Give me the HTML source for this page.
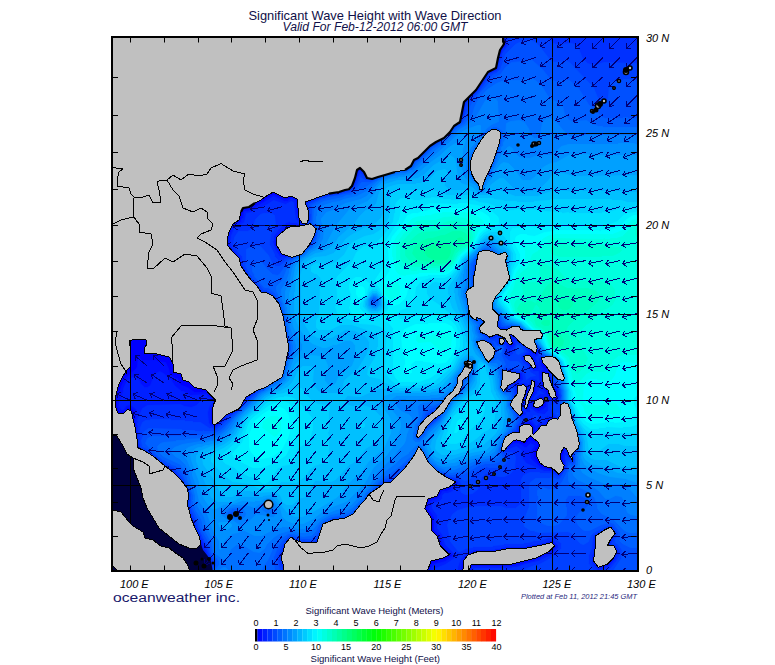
<!DOCTYPE html>
<html><head><meta charset="utf-8"><style>
html,body{margin:0;padding:0;background:#fff;}
svg{display:block;}
text{font-family:"Liberation Sans",sans-serif;}
.t1{font-size:13.5px;fill:#101048;}
.t2{font-size:12.5px;fill:#101048;font-style:italic;}
.ll{font-size:11px;font-style:italic;fill:#000;}
.cb{font-size:9px;fill:#000;}
.cbt{font-size:9px;fill:#10104a;}
.pl{font-size:8px;font-style:italic;fill:#2a2a80;}
.logo{font-size:12px;fill:#18186a;}
</style></head><body>
<svg width="775" height="665" viewBox="0 0 775 665">
<defs><clipPath id="mc"><rect x="113" y="38" width="524" height="533"/></clipPath></defs>
<rect width="775" height="665" fill="#fff"/>
<text x="248.5" y="19.5" class="t1" textLength="253" lengthAdjust="spacingAndGlyphs">Significant Wave Height with Wave Direction</text>
<text x="282.5" y="31" class="t2" textLength="185" lengthAdjust="spacingAndGlyphs">Valid For Feb-12-2012 06:00 GMT</text>
<g clip-path="url(#mc)">
<rect x="113" y="38" width="524" height="533" fill="#0000ff"/><path fill="#0010ff" stroke="#0010ff" stroke-width="0.8" d="M636.5 38.5L492.5 38.5L487.5 43.5L483.5 49.5L475.5 65.5L465.5 78.5L455.5 95.5L446.5 104.5L429.5 115.5L409.5 132.5L373.5 150.5L351.5 168.5L340.5 172.5L335.5 172.5L334.5 173.5L321.5 175.5L310.5 180.5L301.5 188.5L296.5 199.5L292.5 197.5L285.5 199.5L273.5 194.5L266.5 198.5L263.5 201.5L259.5 202.5L249.5 208.5L243.5 209.5L240.5 220.5L236.5 223.5L234.5 222.5L232.5 216.5L227.5 211.5L219.5 208.5L206.5 209.5L198.5 213.5L191.5 220.5L186.5 229.5L185.5 236.5L184.5 237.5L184.5 249.5L185.5 250.5L185.5 255.5L188.5 265.5L192.5 274.5L203.5 290.5L215.5 302.5L228.5 312.5L238.5 322.5L242.5 328.5L248.5 341.5L250.5 353.5L251.5 354.5L250.5 373.5L244.5 390.5L242.5 393.5L238.5 396.5L233.5 398.5L224.5 398.5L221.5 396.5L214.5 396.5L212.5 398.5L208.5 393.5L203.5 391.5L202.5 392.5L194.5 392.5L187.5 387.5L181.5 385.5L178.5 382.5L177.5 378.5L175.5 378.5L169.5 374.5L168.5 368.5L165.5 362.5L157.5 361.5L156.5 360.5L141.5 360.5L138.5 356.5L137.5 366.5L136.5 368.5L125.5 378.5L122.5 383.5L117.5 398.5L117.5 406.5L119.5 411.5L124.5 411.5L127.5 407.5L130.5 407.5L134.5 410.5L134.5 414.5L133.5 415.5L134.5 416.5L134.5 422.5L135.5 424.5L134.5 425.5L130.5 425.5L129.5 426.5L125.5 426.5L124.5 427.5L113.5 429.5L113.5 570.5L192.5 570.5L193.5 569.5L194.5 570.5L310.5 570.5L317.5 562.5L339.5 548.5L347.5 544.5L364.5 538.5L376.5 531.5L383.5 525.5L388.5 519.5L396.5 506.5L403.5 499.5L409.5 496.5L419.5 495.5L420.5 494.5L426.5 494.5L427.5 493.5L435.5 492.5L439.5 490.5L440.5 492.5L438.5 496.5L435.5 498.5L430.5 499.5L428.5 501.5L426.5 508.5L433.5 518.5L433.5 530.5L438.5 536.5L441.5 546.5L451.5 555.5L444.5 559.5L438.5 560.5L437.5 562.5L432.5 563.5L430.5 565.5L428.5 570.5L461.5 570.5L463.5 560.5L468.5 554.5L473.5 552.5L479.5 555.5L503.5 560.5L512.5 564.5L511.5 565.5L471.5 565.5L468.5 570.5L636.5 570.5ZM188.5 566.5L189.5 565.5L193.5 569.5L191.5 570.5ZM187.5 565.5L188.5 564.5L189.5 565.5L188.5 566.5ZM194.5 549.5L195.5 548.5L196.5 549.5L195.5 550.5ZM199.5 545.5L200.5 546.5L196.5 549.5L195.5 548.5ZM444.5 489.5L445.5 488.5L446.5 489.5L445.5 490.5ZM447.5 488.5L448.5 487.5L449.5 488.5L448.5 489.5ZM525.5 423.5L530.5 423.5L533.5 427.5L533.5 432.5L535.5 432.5L541.5 425.5L546.5 425.5L548.5 421.5L549.5 422.5L548.5 425.5L549.5 433.5L564.5 449.5L561.5 455.5L562.5 461.5L551.5 469.5L545.5 468.5L543.5 466.5L541.5 466.5L538.5 464.5L533.5 457.5L533.5 452.5L535.5 447.5L537.5 446.5L537.5 443.5L531.5 440.5L529.5 440.5L525.5 444.5L520.5 443.5L519.5 441.5L516.5 441.5L515.5 442.5L513.5 441.5L520.5 434.5ZM548.5 421.5L549.5 420.5L550.5 421.5L549.5 422.5ZM212.5 408.5L215.5 412.5L215.5 416.5L212.5 421.5L211.5 420.5L211.5 409.5ZM541.5 397.5L545.5 402.5L542.5 407.5L537.5 409.5L533.5 406.5L538.5 401.5L538.5 399.5ZM533.5 388.5L534.5 387.5L535.5 388.5L534.5 389.5ZM543.5 371.5L545.5 371.5L546.5 373.5L549.5 374.5L547.5 377.5L547.5 382.5L551.5 386.5L554.5 387.5L557.5 395.5L555.5 398.5L551.5 398.5L546.5 391.5L547.5 390.5L543.5 387.5L542.5 384.5L542.5 372.5ZM542.5 360.5L547.5 362.5L550.5 365.5L550.5 370.5L549.5 371.5L542.5 365.5L542.5 362.5L541.5 361.5ZM532.5 352.5L533.5 351.5L534.5 352.5L533.5 353.5ZM295.5 225.5L296.5 227.5L294.5 230.5L281.5 242.5L278.5 249.5L275.5 244.5L276.5 237.5L282.5 231.5L289.5 226.5L294.5 226.5Z"/><path fill="#0020ff" stroke="#0020ff" stroke-width="0.8" d="M113.5 529.5L113.5 570.5L181.5 570.5L173.5 561.5L165.5 554.5L154.5 549.5L141.5 545.5L123.5 536.5ZM636.5 38.5L503.5 38.5L505.5 44.5L501.5 51.5L494.5 57.5L484.5 73.5L470.5 86.5L462.5 103.5L457.5 108.5L442.5 115.5L436.5 119.5L420.5 134.5L412.5 140.5L402.5 145.5L385.5 151.5L372.5 159.5L362.5 170.5L360.5 169.5L358.5 170.5L356.5 176.5L350.5 179.5L323.5 183.5L314.5 187.5L307.5 194.5L304.5 200.5L303.5 212.5L302.5 213.5L302.5 222.5L301.5 223.5L298.5 218.5L298.5 214.5L296.5 213.5L295.5 200.5L291.5 198.5L287.5 201.5L284.5 201.5L273.5 196.5L252.5 209.5L247.5 211.5L244.5 211.5L243.5 217.5L241.5 219.5L241.5 221.5L239.5 223.5L233.5 225.5L228.5 238.5L229.5 246.5L237.5 255.5L236.5 256.5L233.5 255.5L224.5 256.5L220.5 258.5L215.5 265.5L215.5 273.5L219.5 283.5L224.5 290.5L247.5 311.5L252.5 320.5L255.5 329.5L257.5 341.5L258.5 342.5L258.5 347.5L259.5 348.5L259.5 362.5L258.5 363.5L258.5 368.5L251.5 387.5L247.5 395.5L243.5 399.5L235.5 403.5L229.5 409.5L225.5 417.5L217.5 425.5L214.5 426.5L210.5 423.5L210.5 409.5L211.5 406.5L213.5 405.5L215.5 401.5L207.5 396.5L206.5 394.5L190.5 395.5L183.5 391.5L181.5 391.5L174.5 385.5L171.5 380.5L163.5 373.5L159.5 371.5L154.5 374.5L150.5 385.5L147.5 387.5L144.5 387.5L140.5 383.5L139.5 380.5L135.5 377.5L132.5 377.5L127.5 380.5L123.5 388.5L123.5 391.5L119.5 402.5L119.5 406.5L121.5 409.5L123.5 409.5L126.5 405.5L130.5 404.5L136.5 409.5L136.5 412.5L135.5 413.5L136.5 415.5L136.5 418.5L135.5 419.5L136.5 425.5L135.5 426.5L136.5 427.5L137.5 434.5L130.5 438.5L122.5 445.5L118.5 440.5L117.5 437.5L113.5 435.5L113.5 507.5L120.5 510.5L134.5 526.5L144.5 532.5L146.5 537.5L155.5 540.5L161.5 545.5L167.5 546.5L171.5 548.5L178.5 554.5L182.5 556.5L195.5 570.5L286.5 570.5L284.5 564.5L284.5 556.5L287.5 553.5L290.5 553.5L291.5 552.5L302.5 552.5L303.5 551.5L308.5 551.5L317.5 548.5L343.5 533.5L349.5 532.5L365.5 526.5L371.5 522.5L379.5 514.5L383.5 508.5L388.5 498.5L388.5 496.5L395.5 488.5L402.5 485.5L407.5 485.5L408.5 484.5L429.5 485.5L430.5 484.5L437.5 484.5L442.5 482.5L455.5 480.5L457.5 482.5L452.5 486.5L450.5 489.5L446.5 491.5L442.5 491.5L438.5 498.5L430.5 501.5L429.5 509.5L434.5 517.5L434.5 529.5L440.5 535.5L443.5 546.5L452.5 554.5L452.5 556.5L445.5 561.5L434.5 564.5L431.5 567.5L430.5 570.5L460.5 570.5L461.5 562.5L464.5 556.5L468.5 553.5L476.5 550.5L495.5 550.5L501.5 548.5L510.5 548.5L511.5 547.5L526.5 547.5L527.5 546.5L531.5 546.5L532.5 545.5L536.5 545.5L542.5 543.5L545.5 544.5L550.5 541.5L552.5 541.5L556.5 546.5L549.5 553.5L537.5 559.5L535.5 559.5L534.5 561.5L531.5 561.5L514.5 566.5L472.5 566.5L470.5 570.5L636.5 570.5ZM202.5 553.5L206.5 556.5L210.5 565.5L206.5 568.5L200.5 567.5L197.5 564.5L197.5 560.5ZM594.5 545.5L596.5 544.5L605.5 549.5L611.5 554.5L614.5 559.5L608.5 565.5L598.5 568.5L593.5 561.5ZM139.5 481.5L162.5 481.5L167.5 485.5L170.5 498.5L175.5 509.5L185.5 521.5L191.5 533.5L195.5 537.5L199.5 539.5L202.5 543.5L202.5 546.5L198.5 550.5L193.5 551.5L191.5 549.5L188.5 549.5L179.5 545.5L157.5 527.5L148.5 512.5L142.5 499.5L140.5 487.5L138.5 484.5ZM568.5 450.5L569.5 451.5L568.5 454.5L567.5 453.5ZM566.5 449.5L567.5 448.5L568.5 450.5L567.5 451.5ZM524.5 422.5L530.5 421.5L535.5 427.5L535.5 429.5L536.5 429.5L540.5 424.5L545.5 424.5L546.5 421.5L549.5 418.5L551.5 419.5L553.5 418.5L554.5 419.5L555.5 431.5L559.5 438.5L567.5 448.5L566.5 449.5L564.5 448.5L564.5 453.5L563.5 454.5L563.5 462.5L564.5 464.5L556.5 472.5L552.5 469.5L549.5 470.5L548.5 469.5L541.5 468.5L530.5 458.5L529.5 452.5L534.5 445.5L530.5 443.5L526.5 447.5L524.5 447.5L518.5 443.5L514.5 443.5L508.5 447.5L507.5 446.5L508.5 442.5L513.5 437.5L516.5 432.5L518.5 431.5L519.5 426.5L523.5 424.5ZM553.5 418.5L554.5 417.5L555.5 418.5L554.5 419.5ZM522.5 412.5L523.5 411.5L524.5 413.5L523.5 414.5ZM542.5 396.5L546.5 400.5L546.5 406.5L543.5 409.5L538.5 411.5L533.5 408.5L531.5 405.5L535.5 400.5L540.5 396.5ZM521.5 384.5L524.5 384.5L528.5 387.5L525.5 396.5L525.5 399.5L523.5 402.5L521.5 397.5L516.5 391.5L516.5 386.5ZM533.5 380.5L535.5 381.5L537.5 384.5L536.5 385.5L535.5 392.5L530.5 399.5L529.5 406.5L527.5 410.5L524.5 408.5L525.5 400.5L530.5 388.5L531.5 381.5ZM520.5 373.5L521.5 374.5L521.5 378.5L513.5 384.5L512.5 381.5L514.5 376.5L517.5 373.5ZM541.5 357.5L548.5 361.5L551.5 365.5L552.5 370.5L550.5 372.5L548.5 372.5L551.5 378.5L551.5 382.5L553.5 386.5L557.5 390.5L558.5 396.5L555.5 399.5L549.5 398.5L548.5 396.5L546.5 395.5L545.5 391.5L541.5 388.5L541.5 376.5L540.5 375.5L540.5 371.5L543.5 369.5L540.5 365.5L540.5 361.5L541.5 360.5L540.5 358.5ZM523.5 356.5L527.5 354.5L530.5 354.5L535.5 360.5L534.5 361.5L535.5 363.5L537.5 364.5L538.5 368.5L537.5 369.5L535.5 368.5L533.5 369.5L530.5 365.5L524.5 360.5ZM528.5 348.5L529.5 347.5L534.5 347.5L537.5 350.5L537.5 354.5L536.5 355.5L533.5 354.5ZM502.5 333.5L505.5 331.5L515.5 331.5L519.5 336.5L519.5 340.5L518.5 341.5L515.5 337.5L510.5 335.5L514.5 344.5L510.5 347.5L509.5 345.5L506.5 343.5L504.5 338.5L502.5 336.5ZM301.5 225.5L302.5 226.5L301.5 230.5L289.5 244.5L286.5 251.5L286.5 255.5L284.5 256.5L280.5 254.5L274.5 244.5L275.5 236.5L288.5 224.5L291.5 225.5L294.5 224.5Z"/><path fill="#0030ff" stroke="#0030ff" stroke-width="0.8" d="M113.5 558.5L113.5 570.5L152.5 570.5L117.5 562.5ZM113.5 437.5L113.5 506.5L115.5 506.5L121.5 509.5L135.5 525.5L145.5 531.5L147.5 536.5L156.5 539.5L162.5 544.5L168.5 545.5L172.5 547.5L179.5 553.5L184.5 555.5L188.5 559.5L192.5 560.5L195.5 556.5L194.5 553.5L192.5 553.5L190.5 551.5L188.5 551.5L184.5 548.5L182.5 548.5L175.5 544.5L160.5 532.5L155.5 527.5L151.5 519.5L149.5 518.5L142.5 504.5L139.5 488.5L135.5 479.5L136.5 477.5L132.5 469.5L132.5 458.5L125.5 453.5L123.5 448.5L121.5 447.5L116.5 438.5ZM524 403h1v1h-1zM539.5 387.5L539.5 390.5L537.5 391.5L537.5 393.5L534.5 396.5L532.5 401.5L532.5 400.5L540.5 393.5L543.5 393.5L539.5 390.5ZM505 341h1v1h-1zM504 339h1v1h-1zM636.5 38.5L505.5 38.5L506.5 40.5L505.5 41.5L506.5 42.5L506.5 45.5L505.5 47.5L503.5 48.5L501.5 54.5L499.5 56.5L497.5 68.5L495.5 70.5L488.5 73.5L477.5 90.5L465.5 102.5L463.5 114.5L462.5 115.5L451.5 118.5L443.5 122.5L417.5 146.5L407.5 151.5L389.5 156.5L379.5 161.5L371.5 168.5L365.5 176.5L363.5 172.5L360.5 170.5L358.5 172.5L358.5 175.5L356.5 177.5L354.5 184.5L350.5 187.5L334.5 188.5L333.5 189.5L329.5 189.5L322.5 191.5L315.5 195.5L309.5 202.5L306.5 203.5L308.5 207.5L307.5 219.5L306.5 220.5L306.5 223.5L303.5 224.5L306.5 225.5L306.5 229.5L303.5 236.5L291.5 249.5L288.5 257.5L287.5 256.5L285.5 257.5L280.5 257.5L275.5 250.5L272.5 241.5L273.5 240.5L273.5 236.5L278.5 229.5L286.5 222.5L289.5 221.5L290.5 222.5L296.5 222.5L300.5 224.5L295.5 218.5L293.5 202.5L291.5 201.5L285.5 204.5L273.5 200.5L267.5 204.5L257.5 209.5L255.5 209.5L251.5 212.5L246.5 213.5L244.5 222.5L234.5 228.5L231.5 235.5L230.5 242.5L232.5 248.5L240.5 257.5L241.5 264.5L245.5 270.5L240.5 276.5L240.5 281.5L242.5 285.5L246.5 289.5L255.5 294.5L260.5 299.5L262.5 306.5L262.5 312.5L263.5 313.5L264.5 331.5L265.5 332.5L266.5 348.5L267.5 349.5L266.5 361.5L265.5 362.5L264.5 369.5L251.5 395.5L246.5 398.5L244.5 402.5L237.5 406.5L231.5 414.5L226.5 416.5L225.5 418.5L215.5 427.5L210.5 426.5L208.5 422.5L207.5 412.5L209.5 405.5L212.5 402.5L212.5 401.5L209.5 399.5L202.5 399.5L196.5 405.5L191.5 407.5L184.5 406.5L180.5 404.5L147.5 405.5L142.5 408.5L137.5 420.5L138.5 421.5L137.5 424.5L138.5 426.5L137.5 429.5L138.5 430.5L138.5 443.5L139.5 444.5L139.5 447.5L142.5 449.5L141.5 450.5L141.5 456.5L143.5 460.5L145.5 462.5L154.5 466.5L167.5 466.5L180.5 478.5L180.5 495.5L181.5 496.5L181.5 499.5L185.5 507.5L191.5 514.5L196.5 529.5L200.5 536.5L200.5 538.5L203.5 542.5L204.5 548.5L206.5 550.5L207.5 554.5L211.5 561.5L211.5 566.5L208.5 569.5L203.5 570.5L284.5 570.5L280.5 557.5L282.5 553.5L283.5 546.5L286.5 543.5L305.5 543.5L306.5 542.5L313.5 542.5L316.5 541.5L318.5 538.5L321.5 537.5L330.5 530.5L339.5 525.5L351.5 523.5L363.5 518.5L366.5 516.5L376.5 505.5L384.5 486.5L389.5 481.5L391.5 481.5L394.5 478.5L402.5 475.5L409.5 475.5L410.5 476.5L415.5 476.5L422.5 478.5L442.5 478.5L443.5 477.5L449.5 477.5L454.5 480.5L455.5 479.5L458.5 482.5L456.5 487.5L454.5 488.5L452.5 491.5L447.5 493.5L444.5 493.5L442.5 495.5L442.5 498.5L439.5 501.5L432.5 503.5L432.5 508.5L437.5 515.5L437.5 528.5L442.5 534.5L445.5 544.5L454.5 553.5L454.5 558.5L445.5 564.5L435.5 568.5L434.5 570.5L457.5 570.5L457.5 567.5L460.5 558.5L462.5 557.5L466.5 552.5L474.5 549.5L494.5 549.5L495.5 548.5L499.5 548.5L505.5 546.5L525.5 546.5L526.5 545.5L540.5 543.5L549.5 540.5L553.5 540.5L558.5 545.5L558.5 547.5L550.5 555.5L538.5 561.5L528.5 563.5L516.5 567.5L512.5 567.5L511.5 568.5L474.5 568.5L472.5 570.5L636.5 570.5ZM603.5 530.5L613.5 537.5L609.5 545.5L614.5 545.5L618.5 552.5L616.5 555.5L616.5 558.5L609.5 566.5L603.5 569.5L597.5 570.5L591.5 562.5L591.5 555.5L593.5 552.5L594.5 536.5ZM525.5 420.5L529.5 418.5L531.5 419.5L536.5 425.5L539.5 422.5L544.5 421.5L544.5 419.5L547.5 415.5L549.5 416.5L554.5 416.5L557.5 418.5L559.5 430.5L562.5 436.5L570.5 447.5L572.5 453.5L572.5 457.5L571.5 458.5L569.5 458.5L565.5 455.5L565.5 463.5L564.5 464.5L565.5 467.5L563.5 471.5L559.5 475.5L553.5 471.5L544.5 471.5L526.5 463.5L522.5 458.5L522.5 452.5L521.5 450.5L516.5 446.5L508.5 449.5L507.5 448.5L505.5 451.5L504.5 450.5L505.5 444.5L509.5 437.5L514.5 431.5L517.5 431.5L519.5 425.5ZM508.5 385.5L508.5 379.5L509.5 378.5L509.5 372.5L510.5 371.5L512.5 372.5L521.5 372.5L522.5 373.5L523.5 379.5L520.5 382.5L514.5 385.5L511.5 385.5L510.5 386.5ZM524.5 345.5L533.5 345.5L538.5 349.5L538.5 355.5L535.5 357.5L538.5 362.5L538.5 358.5L539.5 357.5L544.5 357.5L552.5 364.5L553.5 366.5L553.5 373.5L550.5 374.5L552.5 383.5L557.5 388.5L559.5 396.5L558.5 398.5L554.5 401.5L551.5 401.5L548.5 399.5L548.5 410.5L544.5 414.5L537.5 413.5L530.5 408.5L530.5 411.5L529.5 412.5L526.5 412.5L525.5 410.5L523.5 409.5L523.5 407.5L522.5 407.5L522.5 409.5L526.5 412.5L526.5 414.5L520.5 417.5L519.5 416.5L519.5 406.5L517.5 399.5L515.5 397.5L516.5 394.5L515.5 385.5L520.5 382.5L525.5 382.5L528.5 384.5L529.5 380.5L532.5 378.5L536.5 379.5L539.5 382.5L539.5 385.5L538.5 371.5L533.5 371.5L522.5 358.5L522.5 356.5L524.5 354.5L529.5 352.5L526.5 348.5L523.5 346.5ZM488.5 330.5L489.5 328.5L493.5 325.5L497.5 325.5L500.5 328.5L503.5 328.5L504.5 329.5L507.5 328.5L516.5 329.5L519.5 331.5L521.5 335.5L522.5 343.5L521.5 344.5L514.5 339.5L515.5 344.5L512.5 348.5L508.5 350.5L505.5 343.5L504.5 344.5L502.5 342.5L499.5 342.5L498.5 341.5L499.5 339.5L502.5 337.5L496.5 335.5L490.5 338.5L488.5 336.5Z"/><path fill="#0040ff" stroke="#0040ff" stroke-width="0.8" d="M113.5 559.5L113.5 570.5L123.5 570.5ZM113.5 440.5L113.5 504.5L116.5 504.5L122.5 507.5L136.5 523.5L140.5 524.5L147.5 529.5L148.5 534.5L150.5 535.5L151.5 534.5L157.5 537.5L163.5 542.5L169.5 543.5L173.5 545.5L180.5 551.5L186.5 553.5L174.5 546.5L165.5 538.5L158.5 534.5L153.5 529.5L144.5 514.5L138.5 500.5L137.5 488.5L135.5 485.5L134.5 478.5L130.5 470.5L131.5 459.5L128.5 458.5L123.5 454.5L117.5 443.5ZM533.5 415.5L533.5 417.5L537.5 420.5L538.5 417.5L536.5 415.5ZM636.5 63.5L603.5 62.5L597.5 64.5L590.5 64.5L587.5 63.5L582.5 58.5L578.5 48.5L574.5 44.5L571.5 43.5L556.5 44.5L553.5 43.5L548.5 38.5L508.5 38.5L508.5 45.5L502.5 53.5L502.5 56.5L499.5 63.5L498.5 69.5L496.5 71.5L489.5 74.5L479.5 89.5L466.5 103.5L464.5 114.5L462.5 116.5L462.5 119.5L460.5 122.5L457.5 122.5L454.5 124.5L452.5 124.5L442.5 130.5L437.5 135.5L433.5 141.5L425.5 149.5L419.5 153.5L411.5 157.5L392.5 161.5L381.5 166.5L374.5 172.5L369.5 179.5L365.5 178.5L364.5 176.5L360.5 173.5L354.5 186.5L349.5 190.5L340.5 193.5L321.5 197.5L308.5 203.5L310.5 219.5L307.5 224.5L308.5 223.5L310.5 224.5L310.5 234.5L309.5 237.5L296.5 248.5L291.5 257.5L285.5 258.5L283.5 260.5L278.5 260.5L274.5 256.5L274.5 254.5L269.5 244.5L270.5 234.5L273.5 230.5L275.5 224.5L274.5 215.5L271.5 213.5L263.5 213.5L260.5 214.5L255.5 219.5L253.5 226.5L249.5 230.5L247.5 231.5L238.5 231.5L234.5 237.5L233.5 244.5L238.5 252.5L242.5 256.5L243.5 265.5L247.5 272.5L247.5 274.5L259.5 287.5L261.5 291.5L266.5 291.5L273.5 295.5L273.5 300.5L272.5 301.5L272.5 312.5L273.5 313.5L272.5 315.5L272.5 331.5L273.5 332.5L273.5 338.5L274.5 339.5L274.5 355.5L270.5 369.5L255.5 393.5L250.5 396.5L236.5 412.5L234.5 412.5L230.5 416.5L226.5 418.5L225.5 420.5L216.5 428.5L213.5 429.5L212.5 428.5L209.5 428.5L200.5 422.5L193.5 422.5L192.5 421.5L185.5 421.5L184.5 420.5L171.5 420.5L170.5 419.5L150.5 419.5L149.5 420.5L145.5 420.5L142.5 422.5L140.5 427.5L140.5 433.5L139.5 434.5L140.5 435.5L140.5 439.5L139.5 440.5L140.5 447.5L152.5 454.5L165.5 465.5L167.5 465.5L170.5 468.5L172.5 468.5L179.5 475.5L183.5 482.5L186.5 485.5L186.5 492.5L189.5 500.5L188.5 505.5L190.5 509.5L190.5 512.5L192.5 514.5L192.5 516.5L195.5 521.5L195.5 523.5L201.5 535.5L201.5 537.5L203.5 539.5L203.5 541.5L205.5 543.5L208.5 552.5L213.5 561.5L213.5 565.5L209.5 570.5L282.5 570.5L279.5 563.5L278.5 557.5L283.5 544.5L285.5 543.5L290.5 537.5L293.5 537.5L295.5 539.5L300.5 541.5L313.5 541.5L316.5 540.5L318.5 537.5L320.5 530.5L332.5 520.5L354.5 515.5L364.5 509.5L371.5 501.5L377.5 488.5L385.5 481.5L391.5 480.5L406.5 466.5L427.5 473.5L433.5 473.5L434.5 474.5L441.5 474.5L442.5 473.5L447.5 476.5L456.5 478.5L460.5 481.5L461.5 484.5L460.5 490.5L461.5 492.5L465.5 494.5L472.5 493.5L477.5 489.5L481.5 477.5L485.5 473.5L490.5 473.5L498.5 476.5L504.5 476.5L510.5 473.5L514.5 468.5L515.5 457.5L514.5 454.5L511.5 452.5L503.5 452.5L502.5 451.5L502.5 447.5L503.5 446.5L503.5 443.5L508.5 435.5L513.5 432.5L514.5 430.5L516.5 430.5L517.5 426.5L521.5 422.5L522.5 419.5L521.5 419.5L516.5 413.5L516.5 408.5L513.5 400.5L515.5 393.5L514.5 392.5L514.5 389.5L513.5 387.5L508.5 387.5L507.5 388.5L506.5 387.5L504.5 370.5L505.5 369.5L506.5 370.5L509.5 369.5L513.5 371.5L514.5 370.5L522.5 371.5L525.5 374.5L526.5 379.5L530.5 376.5L535.5 375.5L530.5 372.5L527.5 366.5L522.5 362.5L520.5 358.5L521.5 355.5L526.5 351.5L522.5 345.5L516.5 343.5L516.5 345.5L513.5 350.5L513.5 353.5L509.5 356.5L507.5 355.5L504.5 351.5L505.5 345.5L500.5 345.5L497.5 342.5L497.5 337.5L493.5 339.5L490.5 339.5L483.5 333.5L483.5 326.5L484.5 324.5L488.5 320.5L491.5 319.5L497.5 320.5L499.5 322.5L498.5 324.5L499.5 326.5L506.5 328.5L512.5 326.5L519.5 329.5L522.5 333.5L524.5 339.5L527.5 342.5L534.5 344.5L537.5 346.5L539.5 350.5L539.5 355.5L545.5 356.5L552.5 362.5L554.5 366.5L554.5 372.5L555.5 373.5L555.5 375.5L552.5 376.5L552.5 379.5L555.5 385.5L559.5 389.5L559.5 393.5L560.5 394.5L559.5 399.5L551.5 405.5L552.5 411.5L558.5 418.5L559.5 416.5L560.5 417.5L561.5 427.5L572.5 446.5L574.5 452.5L573.5 454.5L573.5 458.5L574.5 459.5L572.5 462.5L571.5 460.5L566.5 460.5L566.5 466.5L560.5 476.5L557.5 476.5L552.5 473.5L540.5 473.5L539.5 472.5L529.5 472.5L523.5 475.5L521.5 479.5L521.5 503.5L515.5 508.5L506.5 508.5L501.5 506.5L473.5 506.5L472.5 507.5L467.5 507.5L457.5 510.5L452.5 514.5L447.5 524.5L450.5 541.5L458.5 551.5L460.5 551.5L465.5 548.5L472.5 547.5L473.5 546.5L492.5 546.5L493.5 545.5L503.5 544.5L504.5 543.5L523.5 543.5L524.5 542.5L528.5 542.5L534.5 540.5L539.5 540.5L548.5 537.5L554.5 537.5L561.5 543.5L561.5 548.5L552.5 557.5L537.5 565.5L534.5 565.5L521.5 570.5L518.5 570.5L593.5 570.5L588.5 563.5L588.5 555.5L591.5 548.5L592.5 537.5L593.5 535.5L598.5 531.5L600.5 531.5L604.5 528.5L607.5 528.5L611.5 526.5L616.5 533.5L611.5 544.5L615.5 544.5L620.5 551.5L620.5 553.5L616.5 561.5L610.5 568.5L606.5 570.5L636.5 570.5ZM436.5 410.5L437.5 411.5L437.5 417.5L432.5 422.5L427.5 422.5L424.5 419.5L429.5 415.5L431.5 412.5L433.5 412.5ZM491.5 346.5L492.5 345.5L493.5 346.5L492.5 347.5ZM487.5 343.5L489.5 342.5L492.5 345.5L490.5 346.5ZM486.5 342.5L487.5 341.5L488.5 342.5L487.5 343.5ZM481.5 261.5L483.5 264.5L482.5 268.5L477.5 273.5L475.5 273.5L474.5 272.5L475.5 264.5L477.5 261.5Z"/><path fill="#0050ff" stroke="#0050ff" stroke-width="0.8" d="M113.5 562.5L113.5 570.5L120.5 570.5ZM113.5 448.5L113.5 498.5L121.5 499.5L130.5 502.5L131.5 484.5L130.5 483.5L129.5 474.5L127.5 471.5L128.5 461.5L125.5 460.5L119.5 453.5ZM557 413h1v1h-1zM517.5 345.5L516.5 347.5L516.5 353.5L518.5 354.5L523.5 351.5L523.5 350.5L520.5 346.5ZM636.5 80.5L634.5 79.5L623.5 79.5L622.5 80.5L616.5 80.5L611.5 82.5L609.5 84.5L608.5 97.5L606.5 100.5L602.5 101.5L597.5 97.5L592.5 85.5L589.5 83.5L569.5 62.5L567.5 61.5L554.5 62.5L550.5 60.5L539.5 46.5L535.5 42.5L531.5 40.5L519.5 42.5L515.5 44.5L505.5 54.5L500.5 69.5L496.5 73.5L493.5 74.5L487.5 80.5L480.5 90.5L469.5 102.5L467.5 107.5L467.5 110.5L462.5 121.5L455.5 126.5L450.5 132.5L445.5 135.5L439.5 142.5L431.5 146.5L417.5 160.5L414.5 161.5L414.5 162.5L411.5 164.5L399.5 165.5L398.5 166.5L390.5 167.5L382.5 171.5L373.5 180.5L365.5 180.5L360.5 177.5L360.5 179.5L355.5 187.5L350.5 191.5L336.5 195.5L328.5 196.5L324.5 198.5L321.5 198.5L309.5 204.5L310.5 206.5L310.5 213.5L311.5 214.5L310.5 222.5L311.5 224.5L315.5 227.5L316.5 234.5L313.5 241.5L310.5 244.5L306.5 245.5L301.5 248.5L295.5 254.5L293.5 258.5L286.5 260.5L279.5 266.5L275.5 266.5L271.5 262.5L268.5 255.5L260.5 246.5L255.5 245.5L254.5 246.5L251.5 246.5L246.5 249.5L246.5 260.5L245.5 261.5L246.5 263.5L245.5 264.5L247.5 269.5L249.5 271.5L249.5 273.5L252.5 276.5L252.5 278.5L260.5 285.5L263.5 289.5L266.5 289.5L274.5 295.5L280.5 306.5L280.5 334.5L283.5 342.5L283.5 348.5L277.5 367.5L273.5 375.5L259.5 391.5L256.5 392.5L238.5 411.5L227.5 419.5L227.5 420.5L216.5 430.5L213.5 431.5L204.5 431.5L203.5 430.5L202.5 431.5L195.5 431.5L194.5 430.5L182.5 430.5L181.5 429.5L148.5 428.5L143.5 432.5L143.5 435.5L141.5 440.5L142.5 446.5L146.5 448.5L150.5 452.5L153.5 453.5L162.5 461.5L173.5 467.5L181.5 475.5L184.5 480.5L186.5 486.5L188.5 488.5L190.5 495.5L189.5 498.5L190.5 500.5L189.5 502.5L190.5 507.5L197.5 522.5L198.5 527.5L205.5 541.5L207.5 543.5L210.5 553.5L215.5 563.5L213.5 568.5L211.5 570.5L279.5 570.5L276.5 557.5L279.5 551.5L280.5 546.5L287.5 538.5L290.5 536.5L293.5 536.5L295.5 538.5L301.5 540.5L304.5 539.5L306.5 540.5L315.5 539.5L323.5 523.5L335.5 518.5L344.5 517.5L352.5 514.5L358.5 506.5L366.5 498.5L370.5 492.5L374.5 490.5L384.5 480.5L390.5 479.5L403.5 468.5L404.5 466.5L408.5 463.5L412.5 457.5L420.5 464.5L428.5 468.5L436.5 469.5L442.5 473.5L451.5 476.5L459.5 477.5L464.5 480.5L469.5 479.5L476.5 471.5L482.5 467.5L485.5 467.5L486.5 466.5L488.5 467.5L498.5 467.5L503.5 465.5L507.5 460.5L506.5 456.5L503.5 454.5L500.5 450.5L503.5 442.5L503.5 439.5L508.5 435.5L511.5 431.5L515.5 429.5L516.5 425.5L519.5 422.5L519.5 420.5L512.5 408.5L511.5 401.5L513.5 396.5L513.5 391.5L512.5 389.5L507.5 389.5L506.5 390.5L504.5 388.5L501.5 370.5L504.5 368.5L508.5 368.5L509.5 367.5L512.5 368.5L513.5 367.5L514.5 368.5L522.5 368.5L523.5 367.5L519.5 362.5L517.5 361.5L510.5 361.5L508.5 360.5L504.5 356.5L503.5 347.5L501.5 345.5L497.5 345.5L494.5 341.5L492.5 341.5L494.5 343.5L494.5 346.5L493.5 347.5L495.5 349.5L494.5 350.5L491.5 350.5L482.5 342.5L483.5 339.5L485.5 340.5L486.5 339.5L490.5 340.5L481.5 333.5L478.5 329.5L484.5 322.5L480.5 319.5L484.5 315.5L487.5 315.5L488.5 314.5L489.5 315.5L497.5 316.5L499.5 318.5L499.5 321.5L501.5 326.5L504.5 326.5L505.5 327.5L506.5 326.5L516.5 326.5L518.5 327.5L529.5 341.5L537.5 345.5L539.5 348.5L540.5 354.5L548.5 357.5L554.5 363.5L556.5 369.5L556.5 376.5L554.5 377.5L553.5 379.5L554.5 382.5L560.5 389.5L561.5 397.5L559.5 400.5L559.5 403.5L562.5 405.5L561.5 407.5L562.5 420.5L564.5 427.5L575.5 448.5L575.5 451.5L574.5 452.5L574.5 462.5L573.5 463.5L568.5 462.5L567.5 467.5L560.5 478.5L557.5 479.5L551.5 477.5L549.5 478.5L535.5 478.5L530.5 482.5L529.5 484.5L529.5 506.5L523.5 521.5L524.5 526.5L530.5 530.5L533.5 530.5L538.5 532.5L567.5 531.5L570.5 532.5L580.5 543.5L583.5 544.5L588.5 541.5L590.5 535.5L593.5 532.5L607.5 525.5L612.5 525.5L618.5 533.5L615.5 539.5L615.5 542.5L618.5 544.5L622.5 550.5L621.5 558.5L613.5 570.5L636.5 570.5ZM439.5 406.5L440.5 407.5L440.5 415.5L426.5 428.5L422.5 428.5L419.5 425.5L426.5 414.5L431.5 410.5L433.5 410.5ZM487.5 254.5L489.5 256.5L489.5 264.5L484.5 274.5L477.5 281.5L473.5 282.5L472.5 281.5L473.5 269.5L476.5 259.5L483.5 254.5Z"/><path fill="#0060ff" stroke="#0060ff" stroke-width="0.8" d="M113.5 566.5L113.5 570.5L117.5 570.5ZM518.5 348.5L518.5 349.5L519.5 349.5L519.5 348.5ZM636.5 118.5L628.5 118.5L627.5 117.5L623.5 117.5L622.5 118.5L605.5 118.5L602.5 117.5L588.5 104.5L578.5 88.5L569.5 80.5L559.5 80.5L558.5 81.5L555.5 81.5L550.5 79.5L542.5 69.5L532.5 60.5L524.5 60.5L523.5 61.5L511.5 62.5L505.5 67.5L500.5 74.5L494.5 77.5L478.5 94.5L472.5 102.5L470.5 106.5L469.5 112.5L463.5 122.5L456.5 127.5L443.5 140.5L432.5 147.5L421.5 158.5L416.5 161.5L410.5 168.5L407.5 170.5L390.5 172.5L382.5 177.5L377.5 178.5L370.5 182.5L361.5 182.5L356.5 189.5L349.5 193.5L329.5 197.5L320.5 200.5L311.5 205.5L312.5 207.5L312.5 220.5L311.5 221.5L317.5 229.5L316.5 231.5L317.5 232.5L316.5 237.5L311.5 245.5L306.5 250.5L301.5 252.5L296.5 257.5L294.5 257.5L293.5 259.5L288.5 261.5L279.5 274.5L277.5 275.5L272.5 274.5L266.5 268.5L261.5 261.5L257.5 261.5L252.5 265.5L252.5 271.5L254.5 274.5L254.5 276.5L264.5 287.5L268.5 287.5L275.5 293.5L277.5 298.5L279.5 300.5L284.5 315.5L290.5 349.5L288.5 356.5L283.5 365.5L280.5 374.5L272.5 383.5L263.5 390.5L260.5 390.5L260.5 391.5L249.5 400.5L221.5 429.5L215.5 433.5L203.5 434.5L202.5 435.5L151.5 436.5L147.5 438.5L145.5 443.5L151.5 450.5L154.5 451.5L155.5 453.5L162.5 459.5L164.5 459.5L167.5 462.5L169.5 462.5L171.5 464.5L175.5 465.5L181.5 471.5L186.5 482.5L188.5 484.5L191.5 494.5L191.5 505.5L198.5 519.5L200.5 527.5L209.5 543.5L211.5 552.5L216.5 560.5L216.5 565.5L213.5 570.5L274.5 570.5L273.5 557.5L278.5 545.5L282.5 540.5L290.5 534.5L301.5 538.5L311.5 538.5L315.5 535.5L320.5 527.5L320.5 525.5L324.5 521.5L328.5 520.5L332.5 517.5L342.5 516.5L351.5 513.5L365.5 498.5L368.5 493.5L384.5 478.5L389.5 477.5L413.5 456.5L418.5 447.5L422.5 457.5L426.5 461.5L429.5 462.5L436.5 469.5L449.5 474.5L463.5 474.5L478.5 465.5L485.5 463.5L494.5 463.5L499.5 461.5L502.5 457.5L499.5 451.5L502.5 440.5L514.5 427.5L517.5 420.5L515.5 414.5L509.5 405.5L511.5 400.5L511.5 392.5L510.5 391.5L505.5 391.5L504.5 392.5L501.5 387.5L501.5 384.5L500.5 383.5L501.5 382.5L500.5 369.5L503.5 367.5L505.5 364.5L501.5 355.5L502.5 347.5L501.5 346.5L496.5 346.5L496.5 353.5L495.5 354.5L495.5 357.5L493.5 359.5L491.5 357.5L491.5 355.5L486.5 351.5L478.5 342.5L479.5 340.5L481.5 340.5L481.5 339.5L484.5 337.5L478.5 331.5L478.5 327.5L482.5 322.5L478.5 319.5L477.5 319.5L478.5 320.5L477.5 322.5L474.5 320.5L475.5 313.5L476.5 311.5L480.5 308.5L486.5 309.5L497.5 313.5L500.5 316.5L500.5 320.5L502.5 324.5L504.5 325.5L517.5 325.5L520.5 327.5L524.5 332.5L525.5 335.5L530.5 340.5L536.5 343.5L539.5 347.5L541.5 353.5L546.5 356.5L548.5 356.5L555.5 363.5L557.5 368.5L558.5 378.5L556.5 380.5L556.5 383.5L561.5 389.5L561.5 394.5L562.5 395.5L561.5 397.5L561.5 402.5L563.5 404.5L564.5 419.5L566.5 425.5L572.5 437.5L574.5 439.5L574.5 441.5L577.5 447.5L577.5 450.5L575.5 453.5L575.5 463.5L572.5 465.5L570.5 464.5L568.5 466.5L567.5 471.5L562.5 481.5L557.5 488.5L555.5 489.5L548.5 489.5L543.5 487.5L539.5 487.5L537.5 490.5L537.5 495.5L538.5 496.5L538.5 499.5L537.5 500.5L537.5 517.5L538.5 519.5L542.5 523.5L547.5 525.5L554.5 525.5L559.5 523.5L566.5 515.5L566.5 507.5L565.5 506.5L565.5 499.5L568.5 495.5L580.5 495.5L586.5 498.5L588.5 501.5L588.5 505.5L583.5 510.5L579.5 512.5L576.5 516.5L576.5 521.5L578.5 525.5L582.5 529.5L584.5 530.5L589.5 530.5L601.5 524.5L610.5 522.5L613.5 523.5L620.5 532.5L620.5 539.5L619.5 540.5L622.5 543.5L630.5 547.5L636.5 547.5ZM229.5 513.5L231.5 511.5L235.5 511.5L236.5 512.5L236.5 515.5L235.5 516.5L231.5 516.5ZM442.5 402.5L443.5 403.5L442.5 414.5L437.5 420.5L425.5 430.5L424.5 433.5L418.5 439.5L416.5 437.5L418.5 425.5L420.5 423.5L420.5 421.5L422.5 419.5L425.5 412.5L430.5 408.5L439.5 405.5ZM557.5 379.5L558.5 378.5L559.5 379.5L558.5 380.5ZM465.5 375.5L467.5 378.5L465.5 379.5L463.5 382.5L461.5 379.5L462.5 377.5ZM372.5 300.5L374.5 299.5L375.5 301.5L374.5 302.5ZM491.5 250.5L494.5 253.5L494.5 261.5L492.5 267.5L476.5 292.5L474.5 294.5L470.5 294.5L467.5 290.5L472.5 286.5L472.5 283.5L471.5 282.5L472.5 265.5L477.5 257.5L477.5 255.5L483.5 249.5ZM489.5 130.5L495.5 128.5L501.5 132.5L501.5 140.5L499.5 145.5L491.5 141.5L486.5 136.5L485.5 134.5Z"/><path fill="#0070ff" stroke="#0070ff" stroke-width="0.8" d="M498.5 347.5L498.5 352.5L500.5 352.5L501.5 351.5L501.5 348.5ZM636.5 127.5L603.5 127.5L602.5 126.5L598.5 126.5L592.5 124.5L586.5 120.5L571.5 121.5L568.5 119.5L564.5 114.5L562.5 105.5L559.5 102.5L557.5 102.5L551.5 99.5L547.5 95.5L542.5 87.5L535.5 80.5L530.5 78.5L526.5 78.5L520.5 80.5L504.5 80.5L496.5 83.5L487.5 89.5L478.5 99.5L474.5 107.5L472.5 114.5L464.5 124.5L457.5 128.5L443.5 142.5L432.5 149.5L423.5 158.5L417.5 162.5L411.5 169.5L409.5 169.5L407.5 171.5L398.5 172.5L384.5 176.5L350.5 195.5L346.5 195.5L342.5 197.5L323.5 201.5L314.5 206.5L313.5 222.5L317.5 226.5L319.5 230.5L318.5 231.5L317.5 238.5L311.5 247.5L306.5 250.5L302.5 255.5L295.5 258.5L288.5 265.5L282.5 280.5L276.5 286.5L276.5 290.5L278.5 294.5L278.5 297.5L282.5 303.5L282.5 307.5L285.5 314.5L287.5 329.5L288.5 330.5L288.5 335.5L291.5 345.5L291.5 350.5L287.5 359.5L287.5 363.5L283.5 377.5L266.5 388.5L263.5 391.5L261.5 391.5L257.5 394.5L257.5 395.5L233.5 418.5L224.5 429.5L218.5 434.5L214.5 436.5L204.5 437.5L203.5 438.5L185.5 439.5L184.5 440.5L176.5 440.5L175.5 441.5L163.5 442.5L160.5 443.5L157.5 446.5L158.5 451.5L163.5 456.5L180.5 464.5L185.5 472.5L185.5 474.5L187.5 477.5L187.5 480.5L191.5 487.5L191.5 490.5L193.5 495.5L193.5 499.5L192.5 500.5L193.5 501.5L193.5 505.5L195.5 507.5L195.5 509.5L201.5 519.5L203.5 527.5L211.5 542.5L213.5 553.5L219.5 561.5L219.5 564.5L215.5 570.5L261.5 570.5L263.5 565.5L267.5 560.5L274.5 544.5L280.5 538.5L288.5 533.5L293.5 533.5L302.5 536.5L311.5 535.5L315.5 531.5L318.5 525.5L323.5 520.5L331.5 516.5L344.5 514.5L351.5 511.5L363.5 498.5L367.5 492.5L370.5 490.5L383.5 476.5L388.5 474.5L400.5 465.5L411.5 455.5L415.5 450.5L416.5 447.5L419.5 445.5L424.5 452.5L429.5 462.5L439.5 469.5L445.5 471.5L449.5 471.5L450.5 472.5L459.5 471.5L475.5 463.5L481.5 461.5L492.5 460.5L498.5 456.5L498.5 448.5L502.5 440.5L502.5 438.5L513.5 426.5L513.5 424.5L515.5 421.5L512.5 411.5L510.5 409.5L510.5 407.5L508.5 404.5L510.5 399.5L510.5 395.5L508.5 393.5L504.5 393.5L500.5 387.5L499.5 368.5L501.5 365.5L501.5 362.5L497.5 359.5L490.5 362.5L488.5 357.5L479.5 349.5L476.5 343.5L481.5 336.5L477.5 332.5L477.5 329.5L476.5 328.5L478.5 324.5L469.5 316.5L468.5 308.5L467.5 307.5L467.5 302.5L465.5 296.5L467.5 288.5L470.5 286.5L470.5 280.5L469.5 279.5L469.5 276.5L470.5 275.5L469.5 274.5L470.5 264.5L478.5 252.5L484.5 248.5L491.5 249.5L498.5 254.5L498.5 260.5L496.5 266.5L483.5 289.5L482.5 297.5L484.5 302.5L487.5 305.5L493.5 308.5L495.5 311.5L501.5 316.5L502.5 321.5L506.5 324.5L519.5 325.5L521.5 328.5L524.5 330.5L528.5 337.5L536.5 342.5L539.5 346.5L542.5 353.5L548.5 355.5L552.5 358.5L557.5 365.5L559.5 377.5L560.5 378.5L559.5 384.5L562.5 390.5L562.5 400.5L564.5 404.5L566.5 418.5L568.5 424.5L573.5 432.5L579.5 446.5L579.5 449.5L576.5 454.5L576.5 464.5L574.5 466.5L572.5 466.5L569.5 468.5L569.5 471.5L568.5 472.5L568.5 480.5L569.5 482.5L575.5 486.5L577.5 486.5L588.5 491.5L594.5 497.5L597.5 505.5L597.5 508.5L601.5 513.5L613.5 519.5L624.5 530.5L628.5 532.5L636.5 532.5ZM227.5 512.5L232.5 508.5L236.5 508.5L240.5 511.5L241.5 514.5L237.5 518.5L232.5 518.5L227.5 514.5ZM268.5 503.5L271.5 506.5L269.5 509.5L267.5 509.5L265.5 507.5ZM451.5 392.5L452.5 394.5L447.5 404.5L445.5 412.5L442.5 414.5L441.5 417.5L426.5 431.5L425.5 434.5L419.5 440.5L417.5 440.5L414.5 437.5L414.5 433.5L415.5 432.5L416.5 425.5L420.5 419.5L423.5 409.5L429.5 405.5L432.5 405.5L440.5 402.5ZM468.5 361.5L472.5 366.5L472.5 371.5L468.5 378.5L465.5 380.5L462.5 389.5L452.5 393.5L451.5 392.5L456.5 384.5L456.5 378.5L461.5 372.5L466.5 362.5ZM373.5 297.5L377.5 300.5L374.5 304.5L371.5 302.5L371.5 299.5ZM496.5 126.5L503.5 131.5L503.5 136.5L502.5 137.5L501.5 145.5L499.5 147.5L494.5 163.5L491.5 169.5L484.5 176.5L481.5 178.5L474.5 180.5L470.5 173.5L470.5 170.5L469.5 169.5L470.5 157.5L475.5 148.5L482.5 139.5L486.5 131.5L493.5 126.5Z"/><path fill="#0080ff" stroke="#0080ff" stroke-width="0.8" d="M228.5 570.5L225.5 567.5L223.5 567.5L218.5 570.5ZM636.5 135.5L584.5 135.5L583.5 136.5L570.5 136.5L567.5 135.5L555.5 121.5L550.5 118.5L546.5 118.5L542.5 122.5L540.5 134.5L536.5 138.5L534.5 138.5L530.5 135.5L528.5 128.5L524.5 122.5L519.5 120.5L510.5 121.5L506.5 123.5L505.5 139.5L503.5 142.5L503.5 145.5L501.5 147.5L501.5 150.5L498.5 154.5L496.5 161.5L491.5 170.5L491.5 172.5L488.5 175.5L484.5 183.5L484.5 185.5L482.5 187.5L479.5 187.5L478.5 184.5L472.5 179.5L468.5 173.5L467.5 170.5L467.5 162.5L468.5 161.5L468.5 157.5L473.5 147.5L483.5 134.5L483.5 132.5L486.5 128.5L491.5 124.5L498.5 121.5L497.5 101.5L495.5 98.5L490.5 97.5L485.5 100.5L476.5 116.5L468.5 124.5L459.5 129.5L443.5 144.5L426.5 157.5L412.5 170.5L410.5 170.5L405.5 173.5L399.5 173.5L385.5 177.5L377.5 181.5L366.5 191.5L356.5 196.5L343.5 199.5L339.5 201.5L332.5 202.5L323.5 205.5L318.5 208.5L317.5 210.5L317.5 215.5L316.5 216.5L316.5 222.5L320.5 227.5L320.5 236.5L317.5 243.5L315.5 244.5L312.5 248.5L308.5 250.5L306.5 253.5L296.5 259.5L292.5 263.5L289.5 269.5L289.5 272.5L286.5 281.5L281.5 289.5L281.5 297.5L284.5 304.5L287.5 322.5L288.5 323.5L289.5 333.5L293.5 345.5L293.5 349.5L288.5 361.5L288.5 364.5L284.5 377.5L279.5 382.5L260.5 393.5L235.5 418.5L228.5 428.5L219.5 436.5L212.5 439.5L182.5 444.5L174.5 447.5L171.5 450.5L171.5 452.5L175.5 456.5L179.5 458.5L185.5 464.5L187.5 468.5L195.5 495.5L195.5 502.5L204.5 517.5L207.5 528.5L213.5 539.5L215.5 553.5L223.5 559.5L225.5 559.5L227.5 557.5L230.5 549.5L236.5 544.5L244.5 545.5L253.5 551.5L259.5 552.5L264.5 548.5L266.5 544.5L273.5 537.5L279.5 533.5L289.5 530.5L296.5 531.5L297.5 532.5L308.5 532.5L310.5 531.5L321.5 519.5L330.5 514.5L345.5 511.5L352.5 507.5L362.5 497.5L364.5 493.5L384.5 471.5L395.5 463.5L401.5 457.5L408.5 453.5L408.5 452.5L418.5 443.5L422.5 446.5L430.5 461.5L437.5 466.5L445.5 469.5L454.5 469.5L475.5 460.5L491.5 457.5L495.5 454.5L502.5 436.5L507.5 431.5L511.5 425.5L512.5 415.5L507.5 405.5L508.5 396.5L504.5 394.5L500.5 390.5L499.5 387.5L499.5 375.5L498.5 374.5L497.5 364.5L496.5 363.5L489.5 363.5L482.5 355.5L475.5 343.5L475.5 341.5L478.5 337.5L475.5 330.5L475.5 326.5L476.5 325.5L468.5 316.5L468.5 312.5L466.5 307.5L466.5 302.5L464.5 297.5L464.5 290.5L468.5 284.5L468.5 281.5L467.5 280.5L468.5 264.5L480.5 249.5L487.5 246.5L492.5 248.5L496.5 251.5L498.5 254.5L500.5 253.5L501.5 254.5L500.5 264.5L487.5 288.5L486.5 294.5L489.5 302.5L493.5 306.5L493.5 308.5L502.5 316.5L505.5 322.5L519.5 325.5L524.5 329.5L527.5 334.5L539.5 345.5L542.5 351.5L545.5 354.5L551.5 356.5L558.5 364.5L560.5 371.5L560.5 376.5L562.5 380.5L561.5 381.5L561.5 386.5L563.5 390.5L563.5 399.5L566.5 403.5L567.5 414.5L569.5 420.5L580.5 441.5L580.5 446.5L579.5 447.5L580.5 449.5L577.5 455.5L578.5 457.5L578.5 464.5L577.5 466.5L572.5 470.5L573.5 475.5L577.5 479.5L594.5 487.5L598.5 490.5L605.5 498.5L609.5 498.5L615.5 495.5L621.5 496.5L625.5 502.5L625.5 506.5L627.5 512.5L630.5 514.5L636.5 515.5ZM224.5 512.5L225.5 510.5L229.5 507.5L239.5 506.5L243.5 508.5L246.5 513.5L245.5 516.5L241.5 520.5L235.5 520.5L227.5 517.5ZM268.5 501.5L270.5 501.5L274.5 506.5L273.5 511.5L270.5 513.5L266.5 513.5L261.5 509.5L261.5 507.5ZM473.5 362.5L474.5 365.5L473.5 366.5L471.5 376.5L466.5 382.5L463.5 389.5L461.5 390.5L460.5 393.5L452.5 400.5L440.5 420.5L428.5 431.5L426.5 435.5L419.5 442.5L415.5 442.5L412.5 439.5L412.5 432.5L413.5 431.5L414.5 424.5L416.5 422.5L418.5 417.5L417.5 406.5L420.5 403.5L423.5 402.5L439.5 400.5L447.5 393.5L450.5 392.5L452.5 390.5L452.5 388.5L455.5 383.5L455.5 378.5L459.5 373.5L462.5 366.5L465.5 362.5L468.5 360.5ZM373.5 296.5L375.5 296.5L378.5 300.5L378.5 302.5L376.5 305.5L372.5 305.5L370.5 303.5L370.5 299.5Z"/><path fill="#0090ff" stroke="#0090ff" stroke-width="0.8" d="M636.5 144.5L633.5 143.5L618.5 143.5L617.5 144.5L568.5 144.5L561.5 146.5L551.5 155.5L537.5 155.5L529.5 158.5L519.5 157.5L513.5 151.5L512.5 148.5L509.5 146.5L507.5 147.5L502.5 153.5L495.5 167.5L493.5 169.5L490.5 177.5L487.5 180.5L485.5 186.5L483.5 187.5L483.5 190.5L480.5 191.5L479.5 188.5L477.5 187.5L477.5 185.5L469.5 178.5L465.5 171.5L466.5 155.5L470.5 147.5L473.5 144.5L477.5 138.5L478.5 134.5L480.5 132.5L480.5 125.5L477.5 125.5L466.5 129.5L459.5 133.5L433.5 156.5L428.5 159.5L413.5 172.5L403.5 175.5L393.5 176.5L380.5 181.5L366.5 196.5L360.5 199.5L345.5 203.5L332.5 210.5L326.5 212.5L321.5 218.5L321.5 221.5L324.5 228.5L323.5 238.5L321.5 242.5L315.5 248.5L309.5 251.5L304.5 256.5L298.5 259.5L295.5 262.5L292.5 268.5L290.5 279.5L285.5 291.5L285.5 301.5L286.5 302.5L286.5 306.5L287.5 307.5L287.5 311.5L289.5 317.5L290.5 327.5L296.5 345.5L296.5 349.5L290.5 361.5L285.5 378.5L280.5 383.5L261.5 394.5L238.5 417.5L231.5 428.5L223.5 436.5L213.5 441.5L210.5 441.5L201.5 444.5L197.5 444.5L188.5 447.5L183.5 451.5L183.5 454.5L187.5 460.5L192.5 472.5L192.5 475.5L195.5 483.5L199.5 501.5L206.5 511.5L213.5 531.5L219.5 541.5L219.5 548.5L220.5 549.5L221.5 548.5L224.5 540.5L232.5 533.5L238.5 532.5L241.5 530.5L244.5 530.5L254.5 535.5L261.5 535.5L277.5 527.5L281.5 527.5L282.5 526.5L295.5 527.5L296.5 528.5L304.5 528.5L311.5 525.5L317.5 519.5L326.5 513.5L336.5 509.5L346.5 507.5L351.5 504.5L369.5 484.5L377.5 471.5L394.5 455.5L397.5 450.5L403.5 444.5L405.5 440.5L406.5 434.5L411.5 421.5L411.5 417.5L408.5 414.5L401.5 411.5L396.5 406.5L395.5 402.5L399.5 398.5L405.5 398.5L406.5 399.5L430.5 398.5L431.5 397.5L438.5 397.5L444.5 394.5L451.5 388.5L451.5 386.5L454.5 380.5L454.5 377.5L459.5 371.5L463.5 363.5L467.5 359.5L470.5 359.5L475.5 363.5L473.5 374.5L470.5 381.5L464.5 390.5L454.5 399.5L447.5 412.5L440.5 422.5L429.5 433.5L426.5 438.5L422.5 442.5L429.5 457.5L437.5 464.5L443.5 466.5L456.5 465.5L461.5 462.5L472.5 458.5L488.5 455.5L494.5 451.5L500.5 437.5L505.5 431.5L510.5 421.5L508.5 409.5L506.5 406.5L506.5 397.5L501.5 393.5L498.5 388.5L498.5 378.5L497.5 377.5L497.5 373.5L495.5 367.5L490.5 365.5L487.5 361.5L484.5 359.5L474.5 344.5L474.5 340.5L476.5 336.5L474.5 333.5L473.5 325.5L467.5 316.5L466.5 309.5L465.5 308.5L465.5 303.5L462.5 296.5L462.5 291.5L465.5 284.5L465.5 269.5L466.5 268.5L467.5 261.5L472.5 257.5L482.5 246.5L487.5 244.5L492.5 246.5L499.5 252.5L502.5 253.5L503.5 252.5L505.5 254.5L505.5 258.5L502.5 267.5L497.5 274.5L490.5 288.5L490.5 297.5L494.5 303.5L493.5 305.5L494.5 307.5L503.5 315.5L504.5 318.5L507.5 321.5L519.5 324.5L526.5 330.5L529.5 335.5L536.5 340.5L542.5 348.5L543.5 351.5L545.5 353.5L551.5 355.5L558.5 362.5L560.5 366.5L561.5 374.5L563.5 379.5L562.5 385.5L564.5 390.5L564.5 399.5L567.5 403.5L567.5 407.5L570.5 417.5L574.5 425.5L578.5 430.5L578.5 434.5L581.5 442.5L579.5 458.5L580.5 459.5L580.5 468.5L582.5 472.5L588.5 476.5L604.5 483.5L621.5 483.5L627.5 486.5L636.5 496.5ZM277.5 507.5L277.5 512.5L273.5 517.5L268.5 517.5L267.5 516.5L256.5 514.5L242.5 527.5L232.5 520.5L226.5 519.5L221.5 515.5L221.5 511.5L224.5 507.5L233.5 504.5L245.5 504.5L254.5 507.5L258.5 504.5L268.5 499.5L270.5 499.5L275.5 503.5ZM373.5 295.5L375.5 295.5L379.5 300.5L378.5 305.5L375.5 307.5L373.5 307.5L369.5 304.5L369.5 299.5L370.5 297.5Z"/><path fill="#00a0ff" stroke="#00a0ff" stroke-width="0.8" d="M218.5 523.5L220.5 528.5L222.5 529.5L227.5 529.5L231.5 526.5L231.5 524.5L229.5 522.5L219.5 522.5ZM636.5 155.5L589.5 155.5L588.5 154.5L570.5 154.5L556.5 162.5L550.5 163.5L544.5 166.5L540.5 169.5L535.5 176.5L530.5 180.5L523.5 180.5L521.5 179.5L513.5 168.5L508.5 163.5L503.5 162.5L500.5 164.5L495.5 171.5L493.5 176.5L487.5 184.5L483.5 192.5L479.5 192.5L475.5 185.5L469.5 182.5L464.5 177.5L462.5 173.5L462.5 170.5L461.5 169.5L461.5 157.5L462.5 156.5L462.5 149.5L465.5 140.5L464.5 139.5L453.5 144.5L447.5 148.5L440.5 155.5L430.5 162.5L416.5 174.5L410.5 176.5L405.5 176.5L404.5 177.5L398.5 177.5L397.5 178.5L389.5 179.5L381.5 183.5L377.5 187.5L374.5 194.5L367.5 201.5L349.5 209.5L335.5 226.5L326.5 243.5L320.5 248.5L311.5 252.5L308.5 255.5L301.5 259.5L297.5 263.5L295.5 267.5L292.5 284.5L289.5 293.5L289.5 305.5L290.5 306.5L290.5 312.5L291.5 313.5L291.5 318.5L292.5 319.5L293.5 326.5L296.5 332.5L296.5 334.5L302.5 344.5L302.5 349.5L293.5 360.5L286.5 380.5L280.5 385.5L275.5 387.5L261.5 396.5L254.5 404.5L246.5 410.5L240.5 417.5L235.5 426.5L228.5 435.5L217.5 442.5L208.5 445.5L205.5 445.5L201.5 447.5L198.5 447.5L194.5 449.5L190.5 454.5L191.5 460.5L199.5 482.5L199.5 485.5L203.5 497.5L209.5 506.5L212.5 508.5L216.5 508.5L223.5 504.5L233.5 503.5L242.5 500.5L254.5 501.5L255.5 500.5L260.5 500.5L266.5 497.5L272.5 497.5L277.5 502.5L280.5 508.5L282.5 516.5L286.5 520.5L294.5 523.5L303.5 523.5L313.5 518.5L322.5 511.5L332.5 506.5L346.5 501.5L364.5 483.5L373.5 467.5L386.5 455.5L391.5 448.5L397.5 436.5L400.5 427.5L400.5 422.5L399.5 419.5L389.5 407.5L389.5 404.5L388.5 403.5L389.5 400.5L396.5 395.5L429.5 395.5L430.5 394.5L436.5 394.5L442.5 392.5L449.5 386.5L453.5 376.5L458.5 370.5L462.5 362.5L468.5 357.5L470.5 357.5L473.5 359.5L476.5 363.5L473.5 379.5L467.5 389.5L454.5 401.5L440.5 425.5L426.5 442.5L427.5 448.5L430.5 455.5L435.5 460.5L443.5 463.5L454.5 462.5L472.5 455.5L488.5 452.5L494.5 446.5L497.5 439.5L503.5 431.5L507.5 421.5L507.5 414.5L505.5 408.5L505.5 400.5L497.5 389.5L496.5 377.5L494.5 370.5L491.5 368.5L480.5 356.5L473.5 345.5L473.5 342.5L472.5 341.5L473.5 335.5L471.5 330.5L471.5 326.5L466.5 318.5L465.5 311.5L460.5 296.5L460.5 288.5L462.5 281.5L462.5 274.5L463.5 273.5L463.5 269.5L466.5 260.5L485.5 242.5L490.5 242.5L492.5 243.5L499.5 250.5L501.5 251.5L506.5 251.5L508.5 255.5L507.5 263.5L501.5 274.5L497.5 279.5L493.5 288.5L493.5 297.5L495.5 300.5L494.5 302.5L495.5 303.5L495.5 306.5L508.5 320.5L520.5 324.5L527.5 330.5L528.5 332.5L536.5 339.5L542.5 347.5L543.5 350.5L545.5 352.5L555.5 357.5L560.5 363.5L563.5 377.5L564.5 378.5L564.5 383.5L563.5 385.5L565.5 391.5L565.5 399.5L569.5 406.5L575.5 425.5L580.5 434.5L580.5 438.5L582.5 442.5L581.5 457.5L584.5 464.5L592.5 470.5L594.5 470.5L597.5 472.5L609.5 476.5L625.5 478.5L636.5 482.5ZM373.5 294.5L377.5 295.5L380.5 300.5L380.5 304.5L376.5 308.5L372.5 308.5L368.5 305.5L368.5 299.5L369.5 297.5Z"/><path fill="#00b0ff" stroke="#00b0ff" stroke-width="0.8" d="M636.5 175.5L573.5 176.5L563.5 173.5L553.5 173.5L548.5 180.5L540.5 188.5L532.5 191.5L521.5 191.5L520.5 190.5L517.5 190.5L513.5 188.5L503.5 178.5L499.5 178.5L491.5 184.5L484.5 193.5L478.5 193.5L472.5 187.5L461.5 183.5L457.5 179.5L455.5 161.5L454.5 158.5L450.5 155.5L433.5 165.5L424.5 174.5L417.5 178.5L407.5 179.5L406.5 180.5L397.5 180.5L384.5 184.5L379.5 191.5L376.5 203.5L372.5 207.5L365.5 210.5L359.5 216.5L354.5 223.5L338.5 237.5L336.5 241.5L329.5 248.5L321.5 252.5L315.5 253.5L303.5 260.5L299.5 264.5L297.5 274.5L296.5 275.5L295.5 291.5L294.5 292.5L294.5 312.5L295.5 313.5L295.5 317.5L297.5 323.5L301.5 331.5L307.5 339.5L312.5 343.5L322.5 347.5L326.5 347.5L333.5 344.5L336.5 344.5L345.5 340.5L350.5 340.5L352.5 341.5L355.5 345.5L355.5 357.5L352.5 365.5L349.5 368.5L342.5 371.5L339.5 374.5L336.5 382.5L333.5 385.5L328.5 385.5L324.5 380.5L324.5 376.5L327.5 369.5L327.5 365.5L325.5 360.5L321.5 356.5L311.5 355.5L300.5 359.5L295.5 364.5L289.5 380.5L281.5 387.5L264.5 396.5L242.5 417.5L233.5 433.5L227.5 439.5L216.5 445.5L211.5 446.5L199.5 451.5L196.5 455.5L196.5 461.5L211.5 497.5L217.5 501.5L231.5 501.5L242.5 496.5L262.5 496.5L263.5 495.5L271.5 494.5L274.5 495.5L278.5 499.5L281.5 505.5L287.5 512.5L294.5 516.5L302.5 516.5L313.5 511.5L336.5 497.5L342.5 491.5L345.5 485.5L361.5 471.5L368.5 461.5L383.5 448.5L390.5 433.5L391.5 422.5L388.5 415.5L381.5 406.5L380.5 403.5L381.5 398.5L384.5 395.5L393.5 392.5L430.5 392.5L431.5 391.5L438.5 390.5L442.5 388.5L448.5 382.5L449.5 379.5L458.5 367.5L460.5 362.5L468.5 355.5L472.5 355.5L477.5 361.5L475.5 380.5L470.5 389.5L457.5 400.5L453.5 405.5L441.5 427.5L432.5 439.5L430.5 446.5L433.5 454.5L435.5 456.5L442.5 459.5L450.5 459.5L471.5 452.5L486.5 449.5L493.5 442.5L502.5 427.5L503.5 419.5L504.5 418.5L503.5 402.5L495.5 388.5L494.5 377.5L491.5 370.5L487.5 365.5L475.5 354.5L472.5 348.5L471.5 341.5L470.5 340.5L469.5 329.5L464.5 318.5L457.5 294.5L457.5 285.5L458.5 284.5L460.5 273.5L462.5 269.5L462.5 266.5L465.5 259.5L485.5 240.5L492.5 240.5L494.5 241.5L500.5 248.5L506.5 250.5L509.5 255.5L509.5 258.5L507.5 263.5L508.5 268.5L500.5 279.5L495.5 290.5L495.5 295.5L496.5 296.5L496.5 299.5L495.5 300.5L497.5 307.5L498.5 307.5L509.5 319.5L520.5 323.5L528.5 330.5L533.5 336.5L536.5 337.5L543.5 347.5L544.5 350.5L554.5 356.5L561.5 364.5L565.5 377.5L564.5 380.5L565.5 383.5L564.5 384.5L566.5 391.5L566.5 399.5L570.5 406.5L572.5 415.5L580.5 431.5L583.5 440.5L583.5 455.5L585.5 459.5L590.5 463.5L604.5 466.5L617.5 472.5L636.5 474.5ZM372.5 293.5L376.5 293.5L381.5 300.5L381.5 305.5L375.5 310.5L369.5 308.5L367.5 305.5L367.5 299.5Z"/><path fill="#00c0ff" stroke="#00c0ff" stroke-width="0.8" d="M479.5 361.5L478.5 363.5L478.5 375.5L477.5 376.5L477.5 382.5L475.5 387.5L458.5 402.5L453.5 408.5L436.5 440.5L435.5 448.5L436.5 450.5L441.5 454.5L454.5 454.5L470.5 449.5L473.5 447.5L482.5 445.5L495.5 433.5L498.5 427.5L499.5 418.5L500.5 417.5L500.5 401.5L495.5 394.5L495.5 392.5L493.5 389.5L492.5 379.5L490.5 373.5L485.5 364.5ZM636.5 192.5L624.5 192.5L623.5 191.5L615.5 191.5L614.5 190.5L607.5 190.5L606.5 191.5L601.5 191.5L600.5 190.5L588.5 190.5L587.5 191.5L583.5 191.5L582.5 190.5L576.5 190.5L575.5 191.5L553.5 190.5L537.5 196.5L515.5 196.5L499.5 190.5L496.5 190.5L495.5 191.5L492.5 191.5L486.5 195.5L477.5 195.5L475.5 193.5L468.5 190.5L449.5 190.5L444.5 185.5L444.5 178.5L446.5 174.5L446.5 170.5L444.5 169.5L436.5 171.5L430.5 178.5L420.5 183.5L416.5 183.5L415.5 184.5L397.5 184.5L387.5 187.5L384.5 190.5L384.5 193.5L383.5 194.5L385.5 208.5L381.5 217.5L375.5 223.5L367.5 227.5L365.5 227.5L350.5 235.5L345.5 239.5L341.5 245.5L333.5 253.5L325.5 256.5L314.5 257.5L307.5 261.5L303.5 265.5L300.5 275.5L300.5 284.5L301.5 285.5L301.5 314.5L305.5 325.5L310.5 333.5L317.5 337.5L326.5 338.5L327.5 337.5L331.5 337.5L345.5 329.5L354.5 330.5L364.5 335.5L367.5 338.5L369.5 342.5L369.5 348.5L367.5 351.5L367.5 353.5L358.5 368.5L344.5 380.5L342.5 389.5L337.5 393.5L323.5 393.5L318.5 391.5L313.5 385.5L313.5 382.5L312.5 381.5L313.5 369.5L312.5 367.5L310.5 366.5L302.5 366.5L298.5 370.5L292.5 382.5L287.5 387.5L266.5 397.5L244.5 417.5L236.5 433.5L231.5 439.5L224.5 444.5L205.5 453.5L202.5 458.5L203.5 464.5L215.5 481.5L220.5 493.5L225.5 496.5L232.5 496.5L238.5 492.5L244.5 490.5L249.5 490.5L255.5 492.5L275.5 491.5L280.5 495.5L283.5 502.5L286.5 504.5L292.5 504.5L298.5 498.5L306.5 496.5L309.5 494.5L310.5 486.5L315.5 480.5L331.5 481.5L335.5 479.5L349.5 464.5L353.5 462.5L359.5 456.5L365.5 448.5L375.5 442.5L379.5 437.5L382.5 430.5L382.5 425.5L383.5 424.5L381.5 417.5L375.5 411.5L369.5 407.5L363.5 405.5L354.5 405.5L353.5 406.5L348.5 405.5L345.5 402.5L344.5 399.5L347.5 395.5L360.5 396.5L378.5 388.5L388.5 388.5L389.5 389.5L398.5 389.5L399.5 390.5L422.5 390.5L423.5 389.5L431.5 389.5L432.5 388.5L435.5 388.5L442.5 384.5L454.5 370.5L460.5 359.5L469.5 351.5L469.5 344.5L468.5 343.5L468.5 337.5L467.5 336.5L466.5 329.5L457.5 308.5L454.5 298.5L454.5 293.5L453.5 292.5L454.5 282.5L458.5 275.5L463.5 260.5L477.5 247.5L483.5 239.5L487.5 237.5L493.5 237.5L495.5 238.5L509.5 251.5L509.5 254.5L510.5 255.5L509.5 267.5L508.5 268.5L509.5 271.5L502.5 281.5L498.5 289.5L497.5 304.5L511.5 319.5L520.5 322.5L526.5 328.5L529.5 329.5L530.5 331.5L538.5 338.5L544.5 348.5L549.5 353.5L554.5 355.5L561.5 362.5L565.5 376.5L565.5 384.5L567.5 390.5L567.5 399.5L571.5 406.5L573.5 415.5L583.5 435.5L585.5 441.5L585.5 452.5L586.5 454.5L591.5 458.5L594.5 459.5L606.5 459.5L620.5 466.5L632.5 466.5L633.5 465.5L636.5 465.5ZM372.5 292.5L376.5 292.5L380.5 296.5L382.5 300.5L382.5 306.5L380.5 309.5L377.5 311.5L371.5 311.5L367.5 308.5L365.5 304.5L366.5 299.5Z"/><path fill="#00d0ff" stroke="#00d0ff" stroke-width="0.8" d="M358.5 424.5L359.5 427.5L363.5 427.5L364.5 426.5L364.5 423.5L359.5 423.5ZM329.5 406.5L328.5 405.5L318.5 404.5L313.5 402.5L305.5 394.5L301.5 388.5L296.5 388.5L283.5 393.5L277.5 394.5L266.5 400.5L246.5 417.5L237.5 436.5L229.5 444.5L223.5 448.5L214.5 452.5L211.5 456.5L211.5 461.5L221.5 472.5L232.5 481.5L249.5 483.5L259.5 488.5L268.5 488.5L279.5 483.5L281.5 481.5L296.5 482.5L303.5 477.5L310.5 468.5L314.5 465.5L320.5 463.5L325.5 463.5L328.5 461.5L328.5 435.5L327.5 432.5L328.5 431.5L328.5 411.5L329.5 410.5ZM482.5 364.5L480.5 365.5L480.5 383.5L477.5 391.5L474.5 394.5L465.5 399.5L457.5 407.5L449.5 418.5L448.5 423.5L445.5 428.5L441.5 439.5L441.5 445.5L446.5 449.5L456.5 449.5L462.5 446.5L464.5 446.5L477.5 437.5L482.5 432.5L488.5 429.5L492.5 424.5L494.5 418.5L494.5 414.5L495.5 413.5L495.5 401.5L490.5 391.5L489.5 380.5L485.5 370.5L485.5 367.5L484.5 365.5ZM311.5 266.5L311.5 271.5L314.5 273.5L316.5 273.5L320.5 277.5L321.5 283.5L320.5 284.5L319.5 315.5L316.5 320.5L316.5 327.5L318.5 329.5L330.5 329.5L340.5 324.5L351.5 324.5L372.5 331.5L375.5 333.5L378.5 337.5L378.5 346.5L377.5 347.5L376.5 355.5L368.5 368.5L367.5 374.5L369.5 376.5L379.5 378.5L385.5 382.5L397.5 387.5L424.5 387.5L425.5 386.5L434.5 385.5L439.5 382.5L453.5 368.5L458.5 358.5L466.5 348.5L466.5 342.5L465.5 341.5L465.5 336.5L464.5 335.5L463.5 328.5L459.5 319.5L451.5 307.5L449.5 301.5L449.5 297.5L447.5 293.5L447.5 287.5L456.5 274.5L463.5 258.5L477.5 245.5L480.5 240.5L486.5 235.5L489.5 235.5L490.5 234.5L494.5 234.5L498.5 236.5L510.5 250.5L511.5 253.5L511.5 260.5L510.5 261.5L510.5 267.5L509.5 268.5L510.5 271.5L509.5 274.5L510.5 275.5L502.5 287.5L501.5 292.5L498.5 295.5L498.5 302.5L510.5 317.5L521.5 322.5L526.5 327.5L530.5 329.5L535.5 335.5L540.5 338.5L540.5 340.5L544.5 347.5L549.5 352.5L555.5 355.5L561.5 361.5L566.5 376.5L566.5 384.5L568.5 390.5L568.5 399.5L571.5 404.5L577.5 421.5L582.5 428.5L587.5 438.5L589.5 451.5L591.5 452.5L596.5 452.5L608.5 443.5L618.5 443.5L624.5 445.5L636.5 445.5L636.5 202.5L627.5 202.5L621.5 200.5L612.5 200.5L611.5 199.5L550.5 199.5L549.5 200.5L534.5 201.5L533.5 202.5L517.5 202.5L516.5 201.5L504.5 201.5L503.5 200.5L494.5 199.5L493.5 198.5L478.5 198.5L469.5 195.5L447.5 195.5L433.5 190.5L398.5 190.5L393.5 192.5L391.5 194.5L390.5 197.5L390.5 211.5L389.5 212.5L389.5 216.5L386.5 223.5L381.5 229.5L373.5 234.5L364.5 236.5L352.5 242.5L349.5 245.5L344.5 254.5L335.5 262.5L328.5 264.5L315.5 263.5ZM372.5 290.5L376.5 290.5L380.5 294.5L384.5 303.5L382.5 309.5L377.5 313.5L371.5 313.5L368.5 311.5L364.5 306.5L364.5 301.5L368.5 294.5Z"/><path fill="#00e0ff" stroke="#00e0ff" stroke-width="0.8" d="M479.5 400.5L469.5 401.5L453.5 416.5L446.5 436.5L448.5 442.5L450.5 443.5L456.5 443.5L460.5 441.5L463.5 438.5L464.5 435.5L480.5 419.5L484.5 410.5L484.5 406.5ZM291.5 397.5L284.5 396.5L283.5 397.5L279.5 397.5L273.5 399.5L266.5 403.5L260.5 409.5L251.5 415.5L248.5 418.5L239.5 439.5L222.5 454.5L221.5 456.5L222.5 460.5L225.5 463.5L234.5 467.5L237.5 470.5L249.5 476.5L251.5 476.5L263.5 483.5L265.5 483.5L268.5 481.5L277.5 468.5L282.5 465.5L289.5 464.5L293.5 462.5L295.5 452.5L297.5 448.5L308.5 441.5L310.5 438.5L311.5 431.5L312.5 430.5L312.5 420.5L311.5 417.5L301.5 405.5L295.5 399.5ZM337.5 276.5L336.5 278.5L337.5 298.5L336.5 299.5L336.5 305.5L335.5 306.5L337.5 313.5L341.5 316.5L356.5 321.5L359.5 323.5L373.5 324.5L380.5 326.5L386.5 331.5L385.5 369.5L386.5 370.5L386.5 373.5L389.5 378.5L395.5 383.5L401.5 385.5L417.5 385.5L418.5 384.5L423.5 384.5L424.5 383.5L432.5 382.5L452.5 366.5L456.5 357.5L462.5 348.5L462.5 336.5L461.5 335.5L460.5 328.5L457.5 322.5L454.5 318.5L442.5 307.5L429.5 298.5L426.5 293.5L426.5 288.5L427.5 286.5L432.5 282.5L435.5 281.5L439.5 282.5L448.5 279.5L456.5 270.5L461.5 259.5L474.5 247.5L479.5 239.5L484.5 234.5L491.5 231.5L499.5 231.5L505.5 237.5L513.5 253.5L513.5 261.5L511.5 266.5L510.5 279.5L507.5 285.5L501.5 292.5L499.5 296.5L499.5 300.5L501.5 304.5L512.5 317.5L521.5 321.5L526.5 326.5L531.5 329.5L534.5 333.5L540.5 336.5L542.5 338.5L542.5 341.5L545.5 347.5L550.5 352.5L556.5 355.5L562.5 361.5L567.5 377.5L567.5 384.5L569.5 389.5L569.5 399.5L574.5 408.5L575.5 413.5L580.5 423.5L584.5 428.5L593.5 436.5L597.5 435.5L602.5 432.5L636.5 432.5L636.5 208.5L621.5 208.5L620.5 209.5L617.5 209.5L608.5 212.5L602.5 212.5L601.5 213.5L569.5 213.5L568.5 212.5L562.5 213.5L561.5 212.5L545.5 211.5L538.5 209.5L529.5 209.5L528.5 210.5L526.5 209.5L514.5 209.5L513.5 210.5L506.5 210.5L487.5 203.5L479.5 202.5L474.5 200.5L469.5 200.5L468.5 199.5L451.5 200.5L450.5 199.5L443.5 199.5L442.5 198.5L431.5 197.5L430.5 198.5L425.5 198.5L419.5 200.5L414.5 200.5L409.5 198.5L400.5 198.5L396.5 202.5L395.5 205.5L395.5 212.5L394.5 213.5L393.5 221.5L384.5 234.5L376.5 242.5L372.5 244.5L363.5 246.5L356.5 252.5L352.5 261.5ZM372.5 288.5L376.5 288.5L380.5 292.5L385.5 302.5L385.5 308.5L379.5 315.5L375.5 317.5L370.5 315.5L362.5 306.5L363.5 300.5L367.5 295.5L368.5 292.5Z"/><path fill="#00f0ff" stroke="#00f0ff" stroke-width="0.8" d="M462.5 419.5L459.5 419.5L457.5 421.5L454.5 432.5L456.5 432.5L460.5 427.5L462.5 423.5ZM293.5 408.5L288.5 403.5L283.5 401.5L280.5 401.5L269.5 405.5L254.5 416.5L250.5 420.5L248.5 424.5L242.5 442.5L232.5 453.5L233.5 456.5L238.5 460.5L252.5 467.5L261.5 467.5L272.5 463.5L285.5 455.5L296.5 435.5L298.5 428.5L298.5 423.5ZM355.5 277.5L350.5 281.5L349.5 284.5L349.5 289.5L351.5 294.5L351.5 299.5L350.5 300.5L350.5 305.5L349.5 307.5L351.5 312.5L353.5 314.5L360.5 318.5L365.5 318.5L366.5 315.5L359.5 308.5L359.5 303.5L365.5 296.5L369.5 283.5L360.5 277.5ZM636.5 211.5L635.5 212.5L627.5 213.5L623.5 215.5L617.5 221.5L605.5 226.5L564.5 226.5L563.5 225.5L541.5 226.5L540.5 227.5L522.5 226.5L521.5 227.5L512.5 228.5L510.5 231.5L510.5 241.5L516.5 254.5L516.5 261.5L512.5 270.5L511.5 279.5L508.5 285.5L505.5 288.5L505.5 290.5L501.5 295.5L501.5 300.5L510.5 313.5L514.5 317.5L523.5 321.5L536.5 333.5L541.5 335.5L546.5 347.5L550.5 351.5L556.5 354.5L563.5 361.5L568.5 377.5L568.5 384.5L571.5 392.5L571.5 400.5L580.5 419.5L583.5 423.5L590.5 428.5L598.5 428.5L599.5 427.5L605.5 427.5L606.5 426.5L622.5 427.5L623.5 426.5L630.5 426.5L636.5 424.5ZM490.5 210.5L477.5 205.5L469.5 204.5L468.5 203.5L458.5 203.5L457.5 204.5L430.5 203.5L418.5 208.5L403.5 207.5L401.5 209.5L399.5 219.5L384.5 243.5L383.5 246.5L383.5 254.5L384.5 255.5L385.5 262.5L383.5 267.5L375.5 279.5L375.5 282.5L379.5 287.5L382.5 293.5L382.5 295.5L388.5 305.5L388.5 308.5L383.5 315.5L383.5 319.5L388.5 322.5L393.5 328.5L393.5 372.5L395.5 377.5L399.5 381.5L419.5 381.5L430.5 377.5L438.5 371.5L448.5 366.5L457.5 351.5L459.5 346.5L459.5 336.5L455.5 325.5L450.5 320.5L442.5 316.5L438.5 316.5L437.5 315.5L421.5 315.5L420.5 316.5L413.5 316.5L404.5 319.5L399.5 319.5L396.5 314.5L399.5 310.5L406.5 307.5L410.5 304.5L414.5 297.5L415.5 287.5L421.5 280.5L430.5 277.5L444.5 277.5L450.5 274.5L456.5 267.5L461.5 257.5L475.5 244.5L479.5 236.5L483.5 232.5L498.5 223.5L498.5 218.5L497.5 216.5Z"/><path fill="#00ffff" stroke="#00ffff" stroke-width="0.8" d="M284.5 409.5L280.5 407.5L270.5 409.5L262.5 414.5L254.5 421.5L249.5 434.5L249.5 447.5L251.5 452.5L255.5 456.5L260.5 458.5L268.5 457.5L273.5 455.5L281.5 449.5L287.5 438.5L289.5 432.5L289.5 427.5L290.5 426.5L288.5 415.5ZM451.5 326.5L445.5 323.5L428.5 323.5L427.5 324.5L415.5 324.5L404.5 329.5L401.5 336.5L402.5 348.5L403.5 349.5L403.5 353.5L405.5 359.5L405.5 363.5L403.5 369.5L404.5 372.5L407.5 374.5L411.5 372.5L410.5 364.5L415.5 360.5L422.5 360.5L423.5 361.5L435.5 362.5L436.5 363.5L445.5 362.5L450.5 356.5L455.5 346.5L455.5 333.5ZM361.5 286.5L357.5 287.5L356.5 289.5L356.5 294.5L358.5 297.5L362.5 296.5L364.5 294.5L364.5 289.5L363.5 287.5ZM636.5 215.5L633.5 215.5L626.5 219.5L620.5 226.5L609.5 230.5L601.5 230.5L600.5 231.5L598.5 230.5L554.5 230.5L553.5 231.5L544.5 232.5L534.5 236.5L527.5 235.5L526.5 234.5L520.5 234.5L516.5 236.5L515.5 238.5L515.5 244.5L520.5 254.5L520.5 261.5L514.5 270.5L512.5 280.5L509.5 286.5L503.5 294.5L503.5 300.5L509.5 308.5L510.5 311.5L516.5 317.5L523.5 320.5L530.5 327.5L537.5 332.5L541.5 333.5L543.5 335.5L542.5 336.5L544.5 338.5L547.5 347.5L551.5 351.5L556.5 353.5L563.5 359.5L568.5 372.5L569.5 383.5L571.5 386.5L573.5 393.5L573.5 400.5L582.5 417.5L586.5 421.5L591.5 423.5L604.5 422.5L605.5 421.5L613.5 421.5L614.5 422.5L624.5 421.5L631.5 418.5L635.5 414.5L635.5 408.5L633.5 404.5L633.5 398.5L636.5 395.5ZM488.5 216.5L482.5 212.5L470.5 208.5L432.5 208.5L425.5 211.5L422.5 211.5L417.5 213.5L412.5 213.5L407.5 215.5L402.5 224.5L392.5 236.5L388.5 246.5L389.5 271.5L382.5 282.5L383.5 294.5L391.5 304.5L394.5 305.5L399.5 303.5L404.5 298.5L406.5 294.5L408.5 283.5L413.5 278.5L417.5 276.5L427.5 275.5L428.5 274.5L445.5 274.5L449.5 272.5L455.5 266.5L460.5 256.5L472.5 246.5L479.5 233.5L488.5 225.5L489.5 223.5L489.5 218.5Z"/><path fill="#00ffef" stroke="#00ffef" stroke-width="0.8" d="M270.5 416.5L263.5 421.5L262.5 427.5L274.5 436.5L276.5 435.5L280.5 430.5L280.5 420.5L277.5 416.5ZM451.5 337.5L449.5 331.5L447.5 330.5L440.5 330.5L430.5 336.5L426.5 336.5L419.5 334.5L416.5 336.5L416.5 340.5L418.5 342.5L430.5 341.5L441.5 351.5L445.5 351.5L450.5 345.5ZM392.5 281.5L387.5 284.5L385.5 288.5L385.5 294.5L389.5 298.5L394.5 299.5L396.5 298.5L399.5 294.5L399.5 286.5L397.5 282.5ZM636.5 218.5L631.5 220.5L622.5 230.5L612.5 234.5L554.5 234.5L553.5 235.5L549.5 235.5L543.5 238.5L539.5 242.5L534.5 245.5L523.5 244.5L525.5 251.5L525.5 259.5L524.5 262.5L516.5 272.5L514.5 279.5L510.5 286.5L510.5 288.5L505.5 296.5L506.5 297.5L506.5 300.5L509.5 304.5L513.5 313.5L518.5 317.5L524.5 319.5L534.5 329.5L540.5 331.5L544.5 335.5L545.5 340.5L549.5 348.5L551.5 350.5L558.5 353.5L564.5 358.5L569.5 371.5L571.5 383.5L576.5 393.5L576.5 397.5L578.5 401.5L583.5 406.5L585.5 412.5L590.5 416.5L598.5 415.5L599.5 414.5L604.5 414.5L605.5 413.5L618.5 414.5L620.5 412.5L620.5 409.5L615.5 403.5L607.5 403.5L602.5 405.5L586.5 405.5L582.5 401.5L583.5 384.5L587.5 379.5L590.5 378.5L596.5 378.5L597.5 379.5L603.5 379.5L604.5 380.5L611.5 379.5L614.5 375.5L617.5 365.5L620.5 362.5L623.5 361.5L636.5 362.5ZM483.5 221.5L477.5 216.5L464.5 212.5L442.5 212.5L441.5 213.5L435.5 213.5L430.5 215.5L425.5 215.5L424.5 216.5L419.5 216.5L412.5 218.5L397.5 235.5L393.5 242.5L393.5 245.5L392.5 246.5L392.5 256.5L393.5 257.5L393.5 262.5L396.5 271.5L399.5 274.5L405.5 275.5L406.5 274.5L418.5 273.5L419.5 272.5L443.5 272.5L450.5 269.5L454.5 265.5L460.5 254.5L472.5 244.5L478.5 230.5L483.5 224.5Z"/><path fill="#00ffdf" stroke="#00ffdf" stroke-width="0.8" d="M636.5 221.5L631.5 225.5L629.5 229.5L622.5 236.5L616.5 238.5L610.5 238.5L609.5 239.5L605.5 239.5L604.5 238.5L602.5 239.5L553.5 238.5L550.5 239.5L537.5 251.5L532.5 254.5L527.5 267.5L521.5 272.5L516.5 278.5L513.5 289.5L510.5 294.5L510.5 301.5L514.5 312.5L517.5 315.5L525.5 318.5L533.5 327.5L539.5 329.5L543.5 332.5L546.5 337.5L549.5 346.5L553.5 350.5L559.5 352.5L566.5 358.5L568.5 362.5L569.5 368.5L571.5 371.5L573.5 381.5L575.5 383.5L577.5 383.5L586.5 373.5L590.5 371.5L604.5 371.5L606.5 370.5L610.5 365.5L612.5 360.5L618.5 355.5L621.5 355.5L622.5 354.5L636.5 354.5ZM475.5 225.5L471.5 221.5L465.5 218.5L458.5 217.5L457.5 216.5L443.5 217.5L435.5 220.5L420.5 220.5L419.5 221.5L416.5 221.5L406.5 230.5L397.5 242.5L396.5 245.5L396.5 258.5L397.5 261.5L401.5 267.5L405.5 269.5L410.5 269.5L411.5 270.5L416.5 270.5L417.5 269.5L435.5 269.5L436.5 270.5L441.5 270.5L442.5 269.5L446.5 269.5L453.5 264.5L457.5 256.5L464.5 249.5L469.5 246.5L472.5 242.5L474.5 236.5L474.5 232.5L475.5 231.5Z"/><path fill="#00ffcf" stroke="#00ffcf" stroke-width="0.8" d="M633 341h1v1h-1zM540.5 262.5L539.5 263.5L540.5 276.5L538.5 280.5L535.5 282.5L529.5 282.5L526.5 280.5L522.5 280.5L521.5 284.5L523.5 291.5L521.5 296.5L515.5 301.5L514.5 304.5L515.5 310.5L518.5 314.5L527.5 317.5L532.5 322.5L535.5 327.5L540.5 328.5L546.5 334.5L550.5 346.5L553.5 349.5L563.5 352.5L569.5 357.5L571.5 366.5L573.5 370.5L577.5 373.5L582.5 368.5L587.5 358.5L579.5 343.5L579.5 333.5L581.5 329.5L586.5 324.5L591.5 321.5L601.5 310.5L608.5 307.5L612.5 304.5L614.5 300.5L614.5 289.5L610.5 284.5L597.5 280.5L570.5 281.5L566.5 279.5L557.5 269.5L553.5 267.5L550.5 267.5L544.5 263.5ZM550.5 249.5L551.5 253.5L558.5 256.5L601.5 256.5L602.5 255.5L612.5 255.5L619.5 252.5L621.5 250.5L620.5 247.5L612.5 247.5L606.5 245.5L579.5 245.5L576.5 246.5L575.5 245.5L568.5 245.5L567.5 244.5L553.5 244.5ZM636.5 227.5L635.5 229.5L635.5 234.5L636.5 236.5ZM471.5 229.5L465.5 224.5L458.5 221.5L448.5 221.5L435.5 226.5L419.5 225.5L415.5 227.5L402.5 241.5L400.5 245.5L400.5 257.5L401.5 260.5L404.5 263.5L411.5 266.5L419.5 266.5L420.5 267.5L445.5 267.5L448.5 266.5L452.5 263.5L458.5 252.5L470.5 243.5L472.5 237.5Z"/><path fill="#00ffbf" stroke="#00ffbf" stroke-width="0.8" d="M551.5 282.5L546.5 286.5L535.5 303.5L531.5 301.5L524.5 301.5L520.5 303.5L517.5 308.5L520.5 313.5L529.5 313.5L533.5 308.5L534.5 305.5L536.5 304.5L539.5 307.5L540.5 310.5L539.5 313.5L534.5 319.5L536.5 325.5L541.5 327.5L549.5 334.5L551.5 345.5L554.5 348.5L557.5 349.5L565.5 349.5L568.5 346.5L569.5 343.5L569.5 337.5L566.5 329.5L567.5 326.5L574.5 319.5L592.5 306.5L597.5 301.5L599.5 295.5L596.5 291.5L592.5 289.5L589.5 289.5L588.5 288.5L575.5 288.5L574.5 289.5L573.5 288.5L567.5 288.5L555.5 282.5ZM469.5 233.5L466.5 229.5L460.5 226.5L449.5 226.5L437.5 231.5L421.5 232.5L417.5 234.5L407.5 243.5L405.5 247.5L405.5 255.5L410.5 261.5L415.5 263.5L430.5 264.5L431.5 265.5L445.5 265.5L452.5 260.5L455.5 253.5L461.5 247.5L466.5 245.5L469.5 242.5L469.5 239.5L470.5 238.5Z"/><path fill="#00ffaf" stroke="#00ffaf" stroke-width="0.8" d="M556.5 334.5L554.5 335.5L553.5 337.5L553.5 344.5L555.5 346.5L560.5 346.5L562.5 345.5L563.5 340.5L560.5 335.5ZM541.5 322.5L541.5 323.5L544.5 325.5L548.5 325.5L549.5 324.5L549.5 320.5L543.5 320.5ZM558.5 300.5L558.5 305.5L559.5 307.5L562.5 309.5L567.5 309.5L570.5 307.5L573.5 303.5L571.5 300.5L566.5 300.5L565.5 299.5L560.5 299.5ZM467.5 236.5L465.5 233.5L461.5 231.5L452.5 231.5L444.5 235.5L441.5 235.5L432.5 238.5L428.5 238.5L421.5 241.5L414.5 247.5L412.5 253.5L417.5 259.5L425.5 260.5L430.5 262.5L436.5 262.5L437.5 263.5L446.5 262.5L450.5 260.5L454.5 250.5L457.5 247.5L467.5 242.5Z"/><path fill="#00ff9f" stroke="#00ff9f" stroke-width="0.8" d="M424.5 251.5L427.5 256.5L433.5 259.5L446.5 259.5L448.5 257.5L450.5 252.5L450.5 246.5L446.5 243.5L437.5 243.5L427.5 247.5ZM457.5 238.5L458.5 241.5L461.5 241.5L463.5 239.5L461.5 237.5Z"/>
<path d="M105 428L136 434L137 446L143 450L153 456L165 466L173 472L181 480L187 488L189 496L187 504L189 510L191 518L195 528L199 536L201 544L203 550L207 555L211 561L214 578L105 578Z" fill="#00003c"/>
<path d="M130.5 38V571M214.5 38V571M299.5 38V571M383.5 38V571M468.5 38V571M552.5 38V571M113 485.5H637M113 400.5H637M113 314.5H637M113 225.5H637M113 133.5H637" fill="none" stroke="#000" stroke-width="1" shape-rendering="crispEdges"/>
<path d="M113 570L98.9 575.1M101.2 570.7L98.9 575.1L103.5 577M129.9 570L116.1 575.9M118.2 571.4L116.1 575.9L120.9 577.5M129.9 400.1L116.3 393.8M121.1 392.3L116.3 393.8L118.3 398.4M129.9 382.9L117.6 374.3M122.6 373.7L117.6 374.3L118.7 379.2M146.8 570L133.5 577M135.3 572.3L133.5 577L138.4 578.2M146.8 451.4L131.8 450.3M135.8 447.2L131.8 450.3L135.3 453.9M146.8 434.3L131.8 433.4M135.7 430.3L131.8 433.4L135.3 437M146.8 417.2L132.3 413.4M136.8 411.1L132.3 413.4L135 417.6M146.8 400.1L133 394.1M137.8 392.5L133 394.1L135.1 398.7M146.8 382.9L134.2 374.8M139.1 374L134.2 374.8L135.5 379.6M146.8 365.7L135.3 356M140.3 355.9L135.3 356L136 361M163.7 570L151.1 578.2M152.4 573.3L151.1 578.2L156.1 578.9M163.7 451.4L148.7 450.6M152.6 447.5L148.7 450.6L152.3 454.1M163.7 434.3L148.8 432.6M152.9 429.7L148.8 432.6L152.1 436.3M163.7 417.2L149.4 412.7M154 410.7L149.4 412.7L151.9 417M163.7 400.1L150.1 393.8M154.9 392.3L150.1 393.8L152.1 398.4M163.7 382.9L151.4 374.4M156.4 373.7L151.4 374.4L152.5 379.2M163.7 365.7L153.1 355.1M158.1 355.3L153.1 355.1L153.3 360.1M180.6 570L168.9 579.4M169.7 574.4L168.9 579.4L173.9 579.7M180.6 468.4L165.7 470.3M169 466.5L165.7 470.3L169.9 473.2M180.6 451.4L165.6 451.4M169.3 448.1L165.6 451.4L169.3 454.8M180.6 434.3L165.6 434.3M169.3 431L165.6 434.3L169.3 437.7M180.6 417.2L166 414M170.3 411.5L166 414L168.9 418M180.6 400.1L166.9 393.9M171.7 392.4L166.9 393.9L169 398.5M180.6 382.9L167.5 375.6M172.4 374.5L167.5 375.6L169.1 380.3M197.5 570L186.7 580.4M187 575.4L186.7 580.4L191.7 580.2M197.5 519.3L186.3 529.2M186.9 524.2L186.3 529.2L191.3 529.3M197.5 502.3L185.3 511M186.4 506.2L185.3 511L190.3 511.6M197.5 485.4L184.2 492.3M186 487.6L184.2 492.3L189 493.5M197.5 468.4L183.2 473M185.7 468.6L183.2 473L187.8 475M197.5 451.4L182.7 453.8M185.8 449.9L182.7 453.8L186.9 456.5M197.5 434.3L182.5 433.8M186.4 430.6L182.5 433.8L186.1 437.3M197.5 417.2L183.1 413.1M187.6 410.9L183.1 413.1L185.7 417.4M197.5 400.1L183.5 394.6M188.2 392.9L183.5 394.6L185.8 399.1M214.4 570L204.1 580.9M204.2 575.9L204.1 580.9L209.1 580.5M214.4 553.1L204.6 564.5M204.5 559.5L204.6 564.5L209.6 563.8M214.4 536.2L204.8 547.7M204.6 542.7L204.8 547.7L209.7 547M214.4 519.3L204 530.1M204.2 525.1L204 530.1L209 529.7M214.4 502.3L203.7 512.8M204 507.8L203.7 512.8L208.7 512.6M214.4 485.4L202.6 494.6M203.5 489.7L202.6 494.6L207.6 495M214.4 468.4L201.3 475.7M202.9 470.9L201.3 475.7L206.2 476.8M214.4 451.4L200.5 457.1M202.7 452.6L200.5 457.1L205.3 458.8M214.4 434.3L200.3 439.4M202.7 435L200.3 439.4L204.9 441.3M214.4 400.1L199.6 398M203.7 395.2L199.6 398L202.8 401.8M231.3 570L221.2 581.1M221.3 576.1L221.2 581.1L226.2 580.6M231.3 553.1L221.6 564.5M221.5 559.5L221.6 564.5L226.5 563.9M231.3 536.2L221.6 547.6M221.5 542.6L221.6 547.6L226.6 547M231.3 519.3L221 530.2M221.2 525.2L221 530.2L226 529.8M231.3 502.3L221.1 513.3M221.2 508.3L221.1 513.3L226.1 512.9M231.3 485.4L220.3 495.6M220.8 490.6L220.3 495.6L225.3 495.5M231.3 468.4L219.6 477.8M220.4 472.8L219.6 477.8L224.6 478.1M231.3 451.4L218.3 458.9M219.9 454.1L218.3 458.9L223.2 459.9M231.3 434.3L217.5 440.1M219.6 435.6L217.5 440.1L222.2 441.8M231.3 417.2L217.3 422.6M219.6 418.2L217.3 422.6L222 424.4M231.3 242.8L216.7 246.2M219.6 242.1L216.7 246.2L221.1 248.6M248.2 570L238.5 581.4M238.3 576.4L238.5 581.4L243.4 580.7M248.2 553.1L239.2 565M238.7 560.1L239.2 565L244.1 564.1M248.2 536.2L239.4 548.3M238.9 543.3L239.4 548.3L244.3 547.3M248.2 519.3L238.3 530.5M238.3 525.5L238.3 530.5L243.3 529.9M248.2 502.3L237.6 512.9M237.9 507.9L237.6 512.9L242.6 512.7M248.2 485.4L237 495.3M237.6 490.4L237 495.3L242 495.4M248.2 468.4L236.9 478.3M237.5 473.3L236.9 478.3L241.9 478.3M248.2 451.4L235.7 459.6M237 454.8L235.7 459.6L240.7 460.4M248.2 434.3L235 441.4M236.7 436.7L235 441.4L239.9 442.6M248.2 417.2L236.8 426.9M237.4 422L236.8 426.9L241.8 427.1M248.2 400.1L237.3 410.4M237.7 405.4L237.3 410.4L242.3 410.3M248.2 260.6L233.7 264.2M236.5 260L233.7 264.2L238.1 266.5M248.2 242.8L233.6 246M236.5 242L233.6 246L237.9 248.5M248.2 224.9L233.4 227.1M236.6 223.2L233.4 227.1L237.6 229.8M265.1 570L255.6 581.5M255.3 576.5L255.6 581.5L260.5 580.8M265.1 553.1L256.3 565.2M255.8 560.3L256.3 565.2L261.2 564.2M265.1 536.2L256.5 548.5M255.9 543.5L256.5 548.5L261.4 547.3M265.1 519.3L255.7 530.9M255.4 525.9L255.7 530.9L260.6 530.1M265.1 502.3L254.6 513M254.8 508L254.6 513L259.6 512.7M265.1 485.4L254.3 495.8M254.7 490.8L254.3 495.8L259.3 495.6M265.1 468.4L254.8 479.2M254.9 474.2L254.8 479.2L259.7 478.9M265.1 451.4L254.5 462M254.8 457L254.5 462L259.5 461.7M265.1 434.3L254.2 444.6M254.6 439.6L254.2 444.6L259.2 444.5M265.1 417.2L254.5 427.8M254.8 422.9L254.5 427.8L259.5 427.6M265.1 400.1L254.4 410.6M254.7 405.6L254.4 410.6L259.4 410.4M265.1 278.3L251.4 284.4M253.5 279.8L251.4 284.4L256.1 285.9M265.1 260.6L250.6 264.3M253.4 260.1L250.6 264.3L255 266.6M265.1 242.8L250.5 246M253.4 241.9L250.5 246L254.8 248.5M265.1 224.9L250.4 227.7M253.4 223.7L250.4 227.7L254.7 230.3M265.1 206.8L250.3 209.3M253.4 205.4L250.3 209.3L254.6 212M282 570L272.2 581.3M272.1 576.3L272.2 581.3L277.2 580.7M282 553.1L272.8 564.9M272.4 559.9L272.8 564.9L277.7 564M282 536.2L273 548.2M272.6 543.2L273 548.2L277.9 547.2M282 519.3L273 531.2M272.6 526.2L273 531.2L277.9 530.3M282 502.3L272.3 513.8M272.2 508.8L272.3 513.8L277.3 513.1M282 485.4L272 496.6M272 491.6L272 496.6L277 496M282 468.4L272.7 480.2M272.4 475.2L272.7 480.2L277.6 479.3M282 451.4L272.7 463.1M272.4 458.1L272.7 463.1L277.6 462.3M282 434.3L272.8 446.1M272.4 441.1L272.8 446.1L277.7 445.3M282 417.2L272.2 428.6M272.1 423.6L272.2 428.6L277.2 428M282 400.1L271.6 410.9M271.8 405.9L271.6 410.9L276.6 410.6M282 382.9L270.9 393M271.4 388L270.9 393L275.9 393M282 296L268.6 302.6M270.4 298L268.6 302.6L273.4 304M282 278.3L268.4 284.7M270.4 280.1L268.4 284.7L273.2 286.1M282 260.6L268.1 266.2M270.3 261.7L268.1 266.2L272.8 267.9M282 224.9L267.7 229.2M270.3 224.9L267.7 229.2L272.2 231.3M282 206.8L267.5 210.7M270.3 206.5L267.5 210.7L272 212.9M298.9 570L288.8 581M288.8 576L288.8 581L293.7 580.6M298.9 536.2L290.1 548.3M289.6 543.3L290.1 548.3L295 547.3M298.9 519.3L290.3 531.6M289.7 526.6L290.3 531.6L295.2 530.4M298.9 502.3L289.9 514.3M289.4 509.3L289.9 514.3L294.8 513.3M298.9 485.4L289.4 496.9M289.2 491.9L289.4 496.9L294.3 496.2M298.9 468.4L290.2 480.6M289.6 475.6L290.2 480.6L295.1 479.5M298.9 451.4L290.2 463.5M289.6 458.6L290.2 463.5L295 462.5M298.9 434.3L289.2 445.7M289 440.7L289.2 445.7L294.1 445.1M298.9 417.2L288.9 428.4M288.9 423.4L288.9 428.4L293.9 427.9M298.9 400.1L289.3 411.6M289.1 406.6L289.3 411.6L294.2 410.9M298.9 382.9L288.5 393.7M288.7 388.7L288.5 393.7L293.5 393.4M298.9 365.7L287.5 375.3M288.2 370.4L287.5 375.3L292.5 375.5M298.9 348.3L287.7 358.3M288.3 353.4L287.7 358.3L292.7 358.3M298.9 331L287.7 340.9M288.3 335.9L287.7 340.9L292.7 340.9M298.9 313.5L286.4 321.7M287.7 316.8L286.4 321.7L291.3 322.5M298.9 296L285.8 303.3M287.4 298.5L285.8 303.3L290.7 304.4M298.9 278.3L285.9 285.8M287.5 281.1L285.9 285.8L290.8 286.9M298.9 260.6L285 266.2M287.2 261.7L285 266.2L289.7 267.9M298.9 224.9L284.8 229.8M287.2 225.4L284.8 229.8L289.4 231.7M315.8 570L305.3 580.7M305.5 575.7L305.3 580.7L310.3 580.4M315.8 536.2L306.7 548.1M306.3 543.1L306.7 548.1L311.6 547.2M315.8 519.3L307 531.4M306.5 526.4L307 531.4L311.9 530.3M315.8 502.3L306.5 514.1M306.2 509.1L306.5 514.1L311.5 513.3M315.8 485.4L306.3 496.9M306.1 491.9L306.3 496.9L311.2 496.2M315.8 468.4L306.7 480.3M306.3 475.3L306.7 480.3L311.6 479.4M315.8 451.4L306.5 463.2M306.2 458.2L306.5 463.2L311.5 462.3M315.8 434.3L305.8 445.4M305.8 440.4L305.8 445.4L310.7 444.9M315.8 417.2L305.5 428.1M305.7 423.1L305.5 428.1L310.5 427.7M315.8 400.1L305.6 411M305.7 406.1L305.6 411L310.6 410.6M315.8 382.9L304.8 393.1M305.3 388.1L304.8 393.1L309.8 393M315.8 365.7L304.5 375.5M305.1 370.5L304.5 375.5L309.5 375.6M315.8 348.3L304.3 358M305 353L304.3 358L309.3 358.2M315.8 331L304.1 340.3M304.9 335.3L304.1 340.3L309.1 340.6M315.8 313.5L303.3 321.8M304.6 317L303.3 321.8L308.3 322.5M315.8 296L303.1 303.8M304.5 299L303.1 303.8L308 304.7M315.8 278.3L302.7 285.6M304.3 280.9L302.7 285.6L307.6 286.7M315.8 260.6L302.3 267.1M304.2 262.4L302.3 267.1L307.1 268.5M315.8 242.8L301.9 248.4M304.1 243.9L301.9 248.4L306.6 250.1M315.8 224.9L301.6 229.4M304.1 225.1L301.6 229.4L306.1 231.5M315.8 206.8L301.1 209.4M304.1 205.5L301.1 209.4L305.3 212.1M332.7 570L321.8 580.3M322.2 575.3L321.8 580.3L326.8 580.2M332.7 519.3L323.1 530.7M322.9 525.7L323.1 530.7L328 530M332.7 502.3L323.3 514M323 509L323.3 514L328.2 513.2M332.7 485.4L323.7 497.3M323.3 492.4L323.7 497.3L328.6 496.4M332.7 468.4L323.5 480.2M323.1 475.2L323.5 480.2L328.4 479.3M332.7 451.4L322.9 462.7M322.8 457.7L322.9 462.7L327.8 462.1M332.7 434.3L322.8 445.5M322.7 440.5L322.8 445.5L327.7 445M332.7 417.2L322.8 428.5M322.8 423.5L322.8 428.5L327.8 427.9M332.7 400.1L321.9 410.5M322.3 405.5L321.9 410.5L326.9 410.3M332.7 382.9L321.6 392.9M322.1 388L321.6 392.9L326.6 392.9M332.7 365.7L321.5 375.5M322 370.6L321.5 375.5L326.5 375.6M332.7 348.3L321.2 358M321.9 353L321.2 358L326.2 358.1M332.7 331L320.6 339.8M321.7 334.9L320.6 339.8L325.6 340.3M332.7 313.5L320.3 321.9M321.5 317.1L320.3 321.9L325.3 322.6M332.7 296L320.3 304.3M321.5 299.5L320.3 304.3L325.3 305M332.7 278.3L319.7 285.8M321.3 281L319.7 285.8L324.6 286.8M332.7 260.6L319.5 267.6M321.2 262.9L319.5 267.6L324.3 268.8M332.7 242.8L318.8 248.4M321 243.9L318.8 248.4L323.5 250.1M332.7 224.9L318.4 229.1M321 224.8L318.4 229.1L322.9 231.3M332.7 206.8L317.9 208.9M321.1 205.1L317.9 208.9L322 211.7M349.6 570L338.2 579.7M338.9 574.8L338.2 579.7L343.2 579.9M349.6 502.3L340.4 514.1M340.1 509.2L340.4 514.1L345.3 513.3M349.6 485.4L341 497.7M340.4 492.7L341 497.7L345.9 496.5M349.6 468.4L340.9 480.6M340.3 475.6L340.9 480.6L345.8 479.5M349.6 451.4L339.8 462.7M339.7 457.7L339.8 462.7L344.8 462.1M349.6 434.3L340.1 445.9M339.9 440.9L340.1 445.9L345 445.2M349.6 417.2L340.4 429.1M340.1 424.1L340.4 429.1L345.3 428.2M349.6 400.1L339 410.7M339.3 405.7L339 410.7L344 410.4M349.6 382.9L338.7 393.1M339.1 388.2L338.7 393.1L343.7 393M349.6 365.7L338.3 375.5M338.9 370.5L338.3 375.5L343.3 375.6M349.6 348.3L338.5 358.4M339 353.4L338.5 358.4L343.5 358.4M349.6 331L337.7 340M338.6 335.1L337.7 340L342.7 340.4M349.6 313.5L337 321.6M338.3 316.7L337 321.6L341.9 322.4M349.6 296L336.8 303.7M338.3 299L336.8 303.7L341.7 304.7M349.6 278.3L336.5 285.5M338.1 280.8L336.5 285.5L341.3 286.7M349.6 260.6L336.1 267.1M338 262.5L336.1 267.1L340.9 268.5M349.6 242.8L335.8 248.5M337.9 244L335.8 248.5L340.5 250.2M349.6 224.9L335.3 229.2M337.9 224.9L335.3 229.2L339.8 231.3M349.6 206.8L334.9 209.7M337.9 205.7L334.9 209.7L339.2 212.3M349.6 188.6L335 191.8M337.9 187.7L335 191.8L339.3 194.3M366.5 570L354.6 579.1M355.5 574.2L354.6 579.1L359.6 579.5M366.5 485.4L357.5 497.4M357.1 492.4L357.5 497.4L362.4 496.4M366.5 468.4L357.2 480.2M356.9 475.2L357.2 480.2L362.2 479.3M366.5 451.4L356.4 462.4M356.5 457.4L356.4 462.4L361.4 462M366.5 434.3L356.5 445.5M356.5 440.5L356.5 445.5L361.5 444.9M366.5 417.2L356.5 428.4M356.5 423.4L356.5 428.4L361.5 427.9M366.5 400.1L355.7 410.5M356.1 405.5L355.7 410.5L360.7 410.3M366.5 382.9L355.6 393.2M356 388.2L355.6 393.2L360.6 393.1M366.5 365.7L354.6 374.8M355.5 369.9L354.6 374.8L359.6 375.2M366.5 348.3L354.5 357.3M355.5 352.4L354.5 357.3L359.5 357.8M366.5 331L353.8 338.8M355.2 334L353.8 338.8L358.7 339.7M366.5 313.5L353.6 321M355.1 316.3L353.6 321L358.5 322M366.5 296L353.9 304M355.2 299.2L353.9 304L358.8 304.9M366.5 278.3L353.5 285.7M355.1 280.9L353.5 285.7L358.3 286.8M366.5 260.6L352.9 266.8M354.9 262.2L352.9 266.8L357.7 268.3M366.5 242.8L352.4 247.8M354.8 243.4L352.4 247.8L357 249.7M366.5 224.9L351.9 228.3M354.8 224.2L351.9 228.3L356.3 230.7M366.5 206.8L351.7 208.7M354.9 204.9L351.7 208.7L355.8 211.6M366.5 188.6L351.8 191.3M354.8 187.4L351.8 191.3L356.1 194M383.5 570L371 578.3M372.2 573.4L371 578.3L375.9 579M383.5 468.4L373.1 479.2M373.2 474.2L373.1 479.2L378.1 478.9M383.5 451.4L373.1 462.2M373.2 457.3L373.1 462.2L378.1 461.9M383.5 434.3L373.4 445.4M373.4 440.4L373.4 445.4L378.4 444.9M383.5 417.2L372.9 427.9M373.1 422.9L372.9 427.9L377.9 427.6M383.5 400.1L371.9 409.6M372.6 404.7L371.9 409.6L376.9 409.9M383.5 382.9L371 391.3M372.2 386.5L371 391.3L376 392M383.5 365.7L370.4 373M372 368.3L370.4 373L375.2 374.1M383.5 348.3L369.7 354.4M371.8 349.9L369.7 354.4L374.5 356M383.5 331L369.7 336.9M371.8 332.4L369.7 336.9L374.4 338.5M383.5 313.5L369.8 319.7M371.8 315.1L369.8 319.7L374.6 321.2M383.5 296L371.1 304.5M372.3 299.6L371.1 304.5L376 305.1M383.5 278.3L370.5 286M372 281.2L370.5 286L375.4 286.9M383.5 260.6L369.8 266.9M371.8 262.3L369.8 266.9L374.6 268.4M383.5 242.8L368.8 245.8M371.7 241.8L368.8 245.8L373.1 248.4M383.5 224.9L368.6 227.2M371.8 223.3L368.6 227.2L372.8 229.9M383.5 206.8L368.5 208.1M371.9 204.5L368.5 208.1L372.5 211.1M383.5 188.6L368.7 191.2M371.8 187.3L368.7 191.2L372.9 193.9M400.4 570L387.2 577.3M388.9 572.5L387.2 577.3L392.1 578.4M400.4 468.4L389.5 478.8M389.9 473.8L389.5 478.8L394.5 478.6M400.4 451.4L390.1 462.3M390.2 457.3L390.1 462.3L395.1 461.9M400.4 434.3L390.7 445.8M390.5 440.8L390.7 445.8L395.7 445.1M400.4 417.2L390.3 428.3M390.3 423.3L390.3 428.3L395.2 427.8M400.4 400.1L388.5 409.3M389.4 404.4L388.5 409.3L393.5 409.7M400.4 382.9L387.4 390.5M388.9 385.7L387.4 390.5L392.3 391.5M400.4 365.7L387.2 372.8M388.8 368.1L387.2 372.8L392 374M400.4 348.3L386.5 354M388.6 349.5L386.5 354L391.2 355.7M400.4 331L386.4 336.5M388.6 332L386.4 336.5L391.1 338.2M400.4 313.5L386.5 319.3M388.7 314.8L386.5 319.3L391.3 321M400.4 296L387.9 304.3M389.1 299.5L387.9 304.3L392.8 305M400.4 278.3L387.5 286.1M389 281.3L387.5 286.1L392.4 287.1M400.4 260.6L386.2 265.7M388.6 261.3L386.2 265.7L390.9 267.6M400.4 242.8L385.5 244.8M388.7 241L385.5 244.8L389.6 247.6M400.4 224.9L385.4 226M388.8 222.4L385.4 226L389.4 229.1M400.4 206.8L385.7 209.8M388.6 205.8L385.7 209.8L390 212.4M400.4 188.6L386.7 194.9M388.7 190.3L386.7 194.9L391.5 196.4M417.3 570L403.5 576M405.6 571.4L403.5 576L408.2 577.6M417.3 417.2L406.6 427.8M406.9 422.8L406.6 427.8L411.6 427.6M417.3 400.1L406 410M406.6 405L406 410L411 410M417.3 382.9L405.7 392.4M406.4 387.5L405.7 392.4L410.6 392.6M417.3 365.7L404 372.7M405.7 368L404 372.7L408.9 373.9M417.3 348.3L403.2 353.7M405.5 349.2L403.2 353.7L407.9 355.5M417.3 331L403.2 336.2M405.5 331.8L403.2 336.2L407.9 338.1M417.3 313.5L404.3 321M405.8 316.2L404.3 321L409.2 322M417.3 296L406.4 306.3M406.8 301.3L406.4 306.3L411.4 306.1M417.3 278.3L405.6 287.8M406.4 282.9L405.6 287.8L410.6 288.1M417.3 260.6L404.3 268.1M405.8 263.3L404.3 268.1L409.1 269.1M417.3 242.8L402.8 247M405.5 242.7L402.8 247L407.3 249.1M417.3 224.9L402.5 227.7M405.5 223.7L402.5 227.7L406.8 230.3M417.3 206.8L402.8 210.7M405.5 206.5L402.8 210.7L407.2 212.9M417.3 188.6L405.4 197.9M406.3 193L405.4 197.9L410.4 198.2M417.3 170.3L406.6 180.9M406.9 175.9L406.6 180.9L411.6 180.7M434.2 570L419.9 574.6M422.4 570.3L419.9 574.6L424.5 576.7M434.2 519.3L420 524.3M422.4 519.9L420 524.3L424.6 526.2M434.2 502.3L420.5 508.5M422.5 503.9L420.5 508.5L425.3 510M434.2 451.4L423.7 462.2M423.9 457.2L423.7 462.2L428.7 461.8M434.2 434.3L423.7 445.1M423.9 440.1L423.7 445.1L428.7 444.8M434.2 400.1L423.2 410.4M423.7 405.4L423.2 410.4L428.2 410.3M434.2 382.9L421.3 390.6M422.8 385.9L421.3 390.6L426.2 391.6M434.2 365.7L420.9 372.7M422.6 368L420.9 372.7L425.8 373.9M434.2 348.3L420.2 353.8M422.4 349.3L420.2 353.8L424.9 355.6M434.2 331L420.1 336.2M422.4 331.8L420.1 336.2L424.8 338.1M434.2 313.5L420.7 320.2M422.6 315.5L420.7 320.2L425.5 321.5M434.2 296L422.8 305.7M423.4 300.8L422.8 305.7L427.8 305.9M434.2 278.3L422.2 287.4M423.2 282.5L422.2 287.4L427.2 287.8M434.2 260.6L421.7 269M422.9 264.1L421.7 269L426.7 269.7M434.2 242.8L420.3 248.6M422.5 244.1L420.3 248.6L425 250.2M434.2 224.9L419.5 227.8M422.4 223.8L419.5 227.8L423.8 230.4M434.2 206.8L419.2 207.5M422.7 204L419.2 207.5L423 210.7M434.2 188.6L420.5 194.8M422.5 190.2L420.5 194.8L425.2 196.3M434.2 170.3L423.8 181.1M423.9 176.1L423.8 181.1L428.7 180.8M434.2 151.9L423.7 162.6M423.9 157.6L423.7 162.6L428.7 162.3M451.1 570L436.5 573.6M439.3 569.4L436.5 573.6L440.9 575.9M451.1 553.1L436.4 556.1M439.3 552.1L436.4 556.1L440.7 558.6M451.1 536.2L436.3 539.1M439.3 535.1L436.3 539.1L440.6 541.6M451.1 519.3L436.4 522.5M439.3 518.5L436.4 522.5L440.8 525M451.1 502.3L436.5 506.1M439.3 501.9L436.5 506.1L441 508.4M451.1 468.4L439.7 478.2M440.4 473.3L439.7 478.2L444.7 478.3M451.1 451.4L442.3 463.5M441.7 458.6L442.3 463.5L447.2 462.5M451.1 434.3L442.3 446.5M441.8 441.5L442.3 446.5L447.2 445.4M451.1 417.2L442.3 429.4M441.8 424.5L442.3 429.4L447.2 428.4M451.1 382.9L439.2 392.1M440.1 387.1L439.2 392.1L444.2 392.4M451.1 365.7L437.6 372.3M439.5 367.7L437.6 372.3L442.4 373.7M451.1 348.3L437.2 354M439.3 349.5L437.2 354L441.9 355.7M451.1 331L436.8 335.5M439.3 331.2L436.8 335.5L441.3 337.6M451.1 313.5L437.4 319.6M439.4 315L437.4 319.6L442.1 321.1M451.1 296L441.3 307.4M441.2 302.4L441.3 307.4L446.3 306.7M451.1 278.3L439.8 288.2M440.4 283.3L439.8 288.2L444.8 288.3M451.1 260.6L440.4 271.2M440.7 266.2L440.4 271.2L445.4 270.9M451.1 242.8L436.2 245M439.4 241.1L436.2 245L440.4 247.8M451.1 224.9L436.1 226.2M439.5 222.5L436.1 226.2L440.1 229.2M451.1 206.8L436.2 208.6M439.5 204.8L436.2 208.6L440.3 211.5M451.1 188.6L437.8 195.6M439.5 191L437.8 195.6L442.6 196.9M451.1 170.3L441.2 181.6M441.1 176.6L441.2 181.6L446.1 181M451.1 151.9L441 163M441 158L441 163L446 162.5M451.1 133.3L441.1 144.6M441.1 139.6L441.1 144.6L446.1 144M468 570L453.3 573.1M456.2 569L453.3 573.1L457.6 575.6M468 553.1L453.2 555.8M456.3 551.8L453.2 555.8L457.5 558.4M468 536.2L453.2 538.8M456.3 534.9L453.2 538.8L457.4 541.4M468 519.3L453.2 521.7M456.3 517.8L453.2 521.7L457.4 524.4M468 502.3L453.1 503.9M456.4 500.2L453.1 503.9L457.1 506.9M468 485.4L453.2 488.2M456.3 484.3L453.2 488.2L457.5 490.8M468 468.4L456.4 477.9M457.1 473L456.4 477.9L461.4 478.1M468 451.4L461.1 464.7M459.8 459.9L461.1 464.7L465.8 462.9M468 434.3L461.5 447.9M460.1 443.1L461.5 447.9L466.1 446M468 417.2L459.6 429.7M458.9 424.7L459.6 429.7L464.4 428.5M468 400.1L460.1 412.9M459.2 408L460.1 412.9L464.9 411.5M468 382.9L458 394.1M458 389.1L458 394.1L462.9 393.6M468 348.3L454.3 354.5M456.3 349.9L454.3 354.5L459 356M468 331L453.9 336.1M456.2 331.7L453.9 336.1L458.5 338M468 313.5L454.3 319.7M456.3 315.1L454.3 319.7L459 321.2M468 278.3L455.9 287.2M456.9 282.3L455.9 287.2L460.8 287.7M468 260.6L455.3 268.6M456.6 263.8L455.3 268.6L460.2 269.5M468 242.8L453 243.9M456.5 240.3L453 243.9L457 247M468 224.9L453 226.1M456.5 222.4L453 226.1L457 229.1M468 206.8L454.8 213.9M456.4 209.2L454.8 213.9L459.6 215.1M468 188.6L456.5 198.3M457.2 193.3L456.5 198.3L461.5 198.5M468 170.3L456.3 179.7M457.1 174.8L456.3 179.7L461.2 180M468 151.9L457.5 162.7M457.7 157.7L457.5 162.7L462.5 162.3M468 133.3L458 144.5M457.9 139.5L458 144.5L462.9 144M468 114.6L455.4 122.8M456.7 118L455.4 122.8L460.4 123.6M484.9 570L470.2 572.9M473.1 568.9L470.2 572.9L474.5 575.5M484.9 536.2L470.1 538.7M473.2 534.8L470.1 538.7L474.3 541.4M484.9 519.3L470 521.2M473.2 517.4L470 521.2L474.1 524M484.9 502.3L469.9 503.7M473.3 500L469.9 503.7L473.9 506.7M484.9 485.4L470 487.4M473.2 483.6L470 487.4L474.1 490.2M484.9 468.4L472.1 476.2M473.5 471.4L472.1 476.2L477 477.1M484.9 451.4L476.7 464M475.9 459L476.7 464L481.5 462.7M484.9 434.3L477.5 447.4M476.4 442.5L477.5 447.4L482.2 445.8M484.9 417.2L476.8 429.9M476 425L476.8 429.9L481.7 428.6M484.9 400.1L477.8 413.3M476.6 408.5L477.8 413.3L482.5 411.6M484.9 382.9L476.1 395.1M475.6 390.1L476.1 395.1L481 394M484.9 365.7L472.7 374.5M473.8 369.6L472.7 374.5L477.7 375M484.9 242.8L470.3 246.2M473.1 242.1L470.3 246.2L474.6 248.6M484.9 224.9L470.3 228.4M473.1 224.2L470.3 228.4L474.7 230.8M484.9 206.8L471.3 213.2M473.2 208.6L471.3 213.2L476.1 214.7M484.9 188.6L472.5 197.2M473.7 192.3L472.5 197.2L477.5 197.8M484.9 133.3L471.5 140.1M473.3 135.4L471.5 140.1L476.3 141.4M484.9 114.6L470.7 119.5M473.1 115.1L470.7 119.5L475.3 121.4M484.9 95.7L470.4 99.7M473.1 95.5L470.4 99.7L474.9 101.9M501.8 570L487 572.7M490.1 568.8L487 572.7L491.3 575.3M501.8 536.2L486.9 537.8M490.2 534L486.9 537.8L490.9 540.7M501.8 519.3L486.8 520.4M490.3 516.8L486.8 520.4L490.8 523.5M501.8 502.3L486.9 503.9M490.2 500.2L486.9 503.9L490.9 506.8M501.8 485.4L487 487.9M490.1 484L487 487.9L491.2 490.6M501.8 468.4L487.9 474.1M490.1 469.6L487.9 474.1L492.6 475.8M501.8 451.4L490.2 460.9M490.9 456L490.2 460.9L495.2 461.2M501.8 434.3L491.6 445.4M491.7 440.4L491.6 445.4L496.6 444.9M501.8 417.2L492.3 428.9M492 423.9L492.3 428.9L497.2 428.1M501.8 400.1L492.9 412.2M492.4 407.2L492.9 412.2L497.8 411.2M501.8 365.7L489.4 374.1M490.6 369.3L489.4 374.1L494.3 374.8M501.8 348.3L488.4 355.1M490.2 350.5L488.4 355.1L493.2 356.4M501.8 313.5L487.9 319.2M490.1 314.7L487.9 319.2L492.6 320.9M501.8 296L487.8 301.5M490 297L487.8 301.5L492.5 303.2M501.8 242.8L486.9 244.6M490.2 240.8L486.9 244.6L491 247.5M501.8 224.9L487 227.3M490.1 223.4L487 227.3L491.2 230M501.8 206.8L487 209.6M490.1 205.7L487 209.6L491.3 212.2M501.8 188.6L487.2 192.3M490 188.1L487.2 192.3L491.6 194.6M501.8 170.3L487.3 174.1M490 169.9L487.3 174.1L491.7 176.4M501.8 151.9L487.2 155.5M490 151.3L487.2 155.5L491.6 157.8M501.8 133.3L487.1 136.3M490 132.3L487.1 136.3L491.4 138.9M501.8 114.6L487.1 117.7M490 113.7L487.1 117.7L491.4 120.2M501.8 95.7L487.1 98.8M490 94.8L487.1 98.8L491.4 101.3M501.8 76.7L487.2 80.4M490 76.2L487.2 80.4L491.7 82.7M501.8 57.4L487.1 60.6M490 56.6L487.1 60.6L491.5 63.1M518.7 570L503.9 572.4M507 568.5L503.9 572.4L508.1 575.1M518.7 536.2L503.7 537M507.2 533.4L503.7 537L507.6 540.1M518.7 519.3L503.7 519.8M507.3 516.3L503.7 519.8L507.5 523M518.7 502.3L503.7 503.1M507.2 499.6L503.7 503.1L507.6 506.3M518.7 485.4L503.7 486.5M507.2 482.9L503.7 486.5L507.7 489.6M518.7 468.4L504 471.3M507 467.3L504 471.3L508.3 473.9M518.7 451.4L504.9 457.4M507 452.8L504.9 457.4L509.7 459M518.7 417.2L506.8 426.4M507.7 421.5L506.8 426.4L511.8 426.8M518.7 382.9L506.3 391.4M507.5 386.5L506.3 391.4L511.3 392.1M518.7 365.7L505.4 372.7M507.1 368L505.4 372.7L510.3 373.9M518.7 348.3L504.8 353.9M507 349.5L504.8 353.9L509.5 355.7M518.7 313.5L504.3 317.7M506.9 313.5L504.3 317.7L508.8 319.9M518.7 296L504.2 300M506.9 295.8L504.2 300L508.7 302.2M518.7 278.3L504.1 281.8M506.9 277.7L504.1 281.8L508.5 284.2M518.7 260.6L503.8 262.7M507 258.9L503.8 262.7L508 265.5M518.7 242.8L503.7 243.3M507.3 239.8L503.7 243.3L507.5 246.5M518.7 224.9L503.7 226.1M507.2 222.4L503.7 226.1L507.7 229.1M518.7 206.8L503.7 208.2M507.1 204.5L503.7 208.2L507.7 211.2M518.7 188.6L503.8 190.3M507.1 186.6L503.8 190.3L507.8 193.2M518.7 170.3L503.9 172.6M507 168.8L503.9 172.6L508 175.4M518.7 151.9L503.8 154.1M507 150.3L503.8 154.1L508 156.9M518.7 133.3L504 136.3M507 132.2L504 136.3L508.3 138.8M518.7 114.6L504 117.9M506.9 113.8L504 117.9L508.4 120.3M518.7 95.7L504.2 99.7M506.9 95.5L504.2 99.7L508.7 102M518.7 76.7L504.3 81M506.9 76.7L504.3 81L508.8 83.1M518.7 57.4L504.2 61.5M506.9 57.3L504.2 61.5L508.7 63.7M518.7 38L504.3 42.2M506.9 37.9L504.3 42.2L508.8 44.4M535.6 570L520.7 572M523.9 568.2L520.7 572L524.9 574.8M535.6 536.2L520.6 537.1M524.1 533.5L520.6 537.1L524.5 540.2M535.6 519.3L520.6 519.9M524.2 516.4L520.6 519.9L524.5 523.1M535.6 502.3L520.6 502.6M524.2 499.2L520.6 502.6L524.4 505.9M535.6 485.4L520.6 485.4M524.3 482.1L520.6 485.4L524.3 488.7M535.6 468.4L520.6 469.5M524.1 465.9L520.6 469.5L524.6 472.6M535.6 451.4L521 454.9M523.8 450.8L521 454.9L525.4 457.3M535.6 417.2L521.9 423.4M523.9 418.8L521.9 423.4L526.7 424.9M535.6 400.1L522 406.4M523.9 401.8L522 406.4L526.8 407.9M535.6 382.9L521.8 388.9M523.9 384.4L521.8 388.9L526.6 390.5M535.6 365.7L521.6 371M523.8 366.6L521.6 371L526.2 372.8M535.6 313.5L521 317.2M523.8 313L521 317.2L525.4 319.5M535.6 296L521 299.4M523.8 295.3L521 299.4L525.4 301.8M535.6 278.3L520.9 281.5M523.8 277.4L520.9 281.5L525.2 284M535.6 260.6L520.8 263.3M523.9 259.4L520.8 263.3L525.1 265.9M535.6 242.8L520.6 244M524.1 240.4L520.6 244L524.6 247M535.6 224.9L520.7 226.6M524 222.8L520.7 226.6L524.8 229.5M535.6 206.8L520.7 208.7M524 204.9L520.7 208.7L524.8 211.5M535.6 188.6L520.7 190.9M523.9 187L520.7 190.9L524.9 193.6M535.6 170.3L520.8 173.1M523.9 169.1L520.8 173.1L525.1 175.7M535.6 151.9L520.9 154.8M523.9 150.8L520.9 154.8L525.2 157.4M535.6 133.3L520.9 136.6M523.8 132.5L520.9 136.6L525.3 139M535.6 114.6L521 118.2M523.8 114.1L521 118.2L525.4 120.6M535.6 95.7L521.3 100.2M523.8 95.9L521.3 100.2L525.8 102.3M535.6 76.7L521.6 82M523.8 77.6L521.6 82L526.2 83.8M535.6 57.4L521.3 62.1M523.8 57.8L521.3 62.1L525.9 64.1M535.6 38L521.4 43M523.8 38.6L521.4 43L526 44.9M552.5 570L537.6 571.6M540.9 567.9L537.6 571.6L541.6 574.5M552.5 553.1L537.5 554.4M541 550.7L537.5 554.4L541.5 557.4M552.5 536.2L537.5 537.3M541 533.7L537.5 537.3L541.5 540.4M552.5 519.3L537.5 520.2M541 516.6L537.5 520.2L541.4 523.3M552.5 502.3L537.5 502.7M541.1 499.3L537.5 502.7L541.3 506M552.5 485.4L537.5 485.6M541.2 482.2L537.5 485.6L541.2 488.9M552.5 417.2L537.9 420.7M540.7 416.6L537.9 420.7L542.3 423.1M552.5 400.1L537.9 403.6M540.7 399.5L537.9 403.6L542.3 406M552.5 382.9L537.9 386.6M540.7 382.5L537.9 386.6L542.4 388.9M552.5 348.3L538 352.2M540.7 348L538 352.2L542.4 354.5M552.5 331L538 334.7M540.7 330.5L538 334.7L542.4 337M552.5 313.5L537.9 317.2M540.7 313L537.9 317.2L542.4 319.5M552.5 296L537.9 299.4M540.7 295.3L537.9 299.4L542.3 301.8M552.5 278.3L537.8 281.5M540.7 277.4L537.8 281.5L542.2 284M552.5 260.6L537.8 263.5M540.8 259.5L537.8 263.5L542.1 266.1M552.5 242.8L537.7 245M540.8 241.2L537.7 245L541.8 247.8M552.5 224.9L537.7 227.2M540.8 223.3L537.7 227.2L541.9 229.9M552.5 206.8L537.7 209.2M540.8 205.3L537.7 209.2L541.9 211.9M552.5 188.6L537.7 191.3M540.8 187.3L537.7 191.3L542 193.9M552.5 170.3L537.8 173.4M540.8 169.4L537.8 173.4L542.1 175.9M552.5 151.9L537.9 155.3M540.7 151.2L537.9 155.3L542.2 157.7M552.5 133.3L538 137.1M540.7 132.9L538 137.1L542.4 139.4M552.5 114.6L538.4 119.7M540.7 115.3L538.4 119.7L543 121.6M552.5 95.7L540.7 105M541.6 100.1L540.7 105L545.7 105.3M552.5 76.7L539.7 84.6M541.1 79.8L539.7 84.6L544.6 85.4M552.5 57.4L540.6 66.5M541.5 61.6L540.6 66.5L545.5 66.9M552.5 38L540.3 46.8M541.4 41.9L540.3 46.8L545.3 47.3M569.4 570L554.4 571M557.9 567.4L554.4 571L558.3 574.1M569.4 553.1L554.4 553.8M558 550.3L554.4 553.8L558.3 557M569.4 536.2L554.4 537M557.9 533.5L554.4 537L558.3 540.2M569.4 519.3L554.4 520.1M557.9 516.6L554.4 520.1L558.3 523.3M569.4 502.3L554.4 503M558 499.5L554.4 503L558.3 506.2M569.4 485.4L554.4 486.2M557.9 482.6L554.4 486.2L558.3 489.3M569.4 468.4L554.4 469.4M557.9 465.8L554.4 469.4L558.4 472.5M569.4 400.1L554.4 401.4M557.9 397.7L554.4 401.4L558.4 404.4M569.4 382.9L554.5 384.9M557.8 381.1L554.5 384.9L558.6 387.7M569.4 365.7L554.6 368.1M557.7 364.2L554.6 368.1L558.8 370.8M569.4 348.3L554.7 351.2M557.7 347.2L554.7 351.2L558.9 353.8M569.4 331L554.8 334.5M557.6 330.4L554.8 334.5L559.2 336.9M569.4 313.5L554.9 317.2M557.6 313L554.9 317.2L559.3 319.5M569.4 296L554.8 299.5M557.6 295.4L554.8 299.5L559.2 301.9M569.4 278.3L554.7 281.6M557.6 277.5L554.7 281.6L559.1 284M569.4 260.6L554.6 262.9M557.7 259.1L554.6 262.9L558.8 265.7M569.4 242.8L554.5 244.3M557.8 240.6L554.5 244.3L558.5 247.2M569.4 224.9L554.5 226.8M557.8 223L554.5 226.8L558.6 229.6M569.4 206.8L554.5 208.9M557.7 205.1L554.5 208.9L558.7 211.7M569.4 188.6L554.6 190.9M557.7 187L554.6 190.9L558.7 193.7M569.4 170.3L554.6 173.1M557.7 169.1L554.6 173.1L558.9 175.7M569.4 151.9L554.7 154.7M557.7 150.7L554.7 154.7L558.9 157.3M569.4 133.3L554.9 137.2M557.6 133L554.9 137.2L559.4 139.5M569.4 114.6L555.7 120.6M557.7 116.1L555.7 120.6L560.4 122.2M569.4 95.7L557.7 105.1M558.5 100.1L557.7 105.1L562.7 105.4M569.4 76.7L557.2 85.4M558.3 80.5L557.2 85.4L562.2 86M569.4 57.4L557.7 66.8M558.5 61.9L557.7 66.8L562.7 67.1M569.4 38L557.6 47.3M558.5 42.4L557.6 47.3L562.6 47.6M586.3 570L571.3 570.7M574.9 567.2L571.3 570.7L575.2 573.9M586.3 553.1L571.3 553.6M574.9 550.1L571.3 553.6L575.1 556.8M586.3 536.2L571.3 536.8M574.9 533.3L571.3 536.8L575.1 540M586.3 519.3L571.3 520M574.9 516.4L571.3 520L575.2 523.1M586.3 502.3L571.3 502.9M574.9 499.4L571.3 502.9L575.1 506.1M586.3 485.4L571.3 486M574.9 482.5L571.3 486L575.2 489.2M586.3 468.4L571.3 469.1M574.9 465.6L571.3 469.1L575.2 472.3M586.3 451.4L571.3 451.9M574.9 448.4L571.3 451.9L575.1 455.1M586.3 434.3L571.3 435.1M574.9 431.6L571.3 435.1L575.2 438.2M586.3 417.2L571.3 418.1M574.8 414.5L571.3 418.1L575.2 421.2M586.3 400.1L571.3 400.6M574.9 397.2L571.3 400.6L575.1 403.8M586.3 382.9L571.3 384.2M574.8 380.5L571.3 384.2L575.3 387.2M586.3 365.7L571.4 367.8M574.6 363.9L571.4 367.8L575.6 370.6M586.3 348.3L571.5 350.6M574.6 346.7L571.5 350.6L575.6 353.3M586.3 331L571.6 334.1M574.6 330.1L571.6 334.1L576 336.6M586.3 313.5L571.7 317.1M574.5 313L571.7 317.1L576.1 319.5M586.3 296L571.7 299.5M574.5 295.4L571.7 299.5L576.1 301.9M586.3 278.3L571.6 281.6M574.5 277.5L571.6 281.6L576 284.1M586.3 260.6L571.5 262.8M574.6 259L571.5 262.8L575.6 265.6M586.3 242.8L571.4 244.1M574.8 240.5L571.4 244.1L575.4 247.1M586.3 224.9L571.4 226.7M574.7 222.9L571.4 226.7L575.5 229.6M586.3 206.8L571.5 209.3M574.6 205.4L571.5 209.3L575.7 212M586.3 188.6L571.6 191.5M574.6 187.5L571.6 191.5L575.9 194.1M586.3 170.3L571.7 173.7M574.5 169.6L571.7 173.7L576.1 176.2M586.3 151.9L571.8 155.9M574.5 151.6L571.8 155.9L576.3 158.1M586.3 133.3L572.1 138.3M574.5 133.9L572.1 138.3L576.8 140.2M586.3 114.6L573.1 121.8M574.8 117.1L573.1 121.8L578 123M586.3 95.7L574.8 105.3M575.5 100.4L574.8 105.3L579.8 105.5M586.3 76.7L574.6 86M575.4 81.1L574.6 86L579.6 86.3M586.3 57.4L575.2 67.5M575.7 62.5L575.2 67.5L580.2 67.5M586.3 38L575.1 48M575.7 43.1L575.1 48L580.1 48M603.2 570L588.2 570.7M591.8 567.2L588.2 570.7L592.1 573.9M603.2 519.3L588.2 520M591.8 516.5L588.2 520L592.1 523.2M603.2 502.3L588.2 502.9M591.8 499.4L588.2 502.9L592 506.1M603.2 485.4L588.2 486.1M591.8 482.6L588.2 486.1L592.1 489.3M603.2 468.4L588.2 469.2M591.7 465.7L588.2 469.2L592.1 472.4M603.2 451.4L588.2 452M591.8 448.5L588.2 452L592.1 455.2M603.2 434.3L588.2 435.2M591.7 431.6L588.2 435.2L592.1 438.3M603.2 417.2L588.2 418.2M591.7 414.6L588.2 418.2L592.1 421.3M603.2 400.1L588.2 400.8M591.8 397.3L588.2 400.8L592.1 404M603.2 382.9L588.3 384.3M591.6 380.7L588.3 384.3L592.3 387.3M603.2 365.7L588.3 367.8M591.5 364L588.3 367.8L592.5 370.6M603.2 348.3L588.4 350.8M591.5 346.9L588.4 350.8L592.6 353.5M603.2 331L588.6 334.4M591.4 330.3L588.6 334.4L593 336.8M603.2 313.5L588.6 317.1M591.4 313L588.6 317.1L593 319.5M603.2 296L588.6 299.6M591.4 295.4L588.6 299.6L593 301.9M603.2 278.3L588.6 281.9M591.4 277.7L588.6 281.9L593 284.3M603.2 260.6L588.5 263.6M591.5 259.6L588.5 263.6L592.8 266.2M603.2 242.8L588.4 245.2M591.5 241.3L588.4 245.2L592.6 247.9M603.2 224.9L588.5 227.7M591.5 223.7L588.5 227.7L592.7 230.3M603.2 206.8L588.6 210.4M591.4 206.3L588.6 210.4L593 212.8M603.2 188.6L588.7 192.5M591.4 188.3L588.7 192.5L593.1 194.8M603.2 170.3L588.8 174.6M591.4 170.3L588.8 174.6L593.3 176.8M603.2 151.9L589.2 157.3M591.5 152.8L589.2 157.3L593.8 159.1M603.2 133.3L589.9 140.3M591.7 135.6L589.9 140.3L594.8 141.6M603.2 114.6L590.7 122.8M591.9 118L590.7 122.8L595.6 123.6M603.2 95.7L592.2 105.9M592.7 101L592.2 105.9L597.2 105.9M603.2 76.7L591.9 86.5M592.5 81.6L591.9 86.5L596.9 86.6M603.2 57.4L592.5 68M592.8 63L592.5 68L597.5 67.7M603.2 38L592.4 48.5M592.8 43.5L592.4 48.5L597.4 48.3M620.1 570L605.1 571.1M608.6 567.5L605.1 571.1L609.1 574.2M620.1 553.1L605.1 554M608.6 550.4L605.1 554L609 557.1M620.1 536.2L605.1 537.2M608.6 533.6L605.1 537.2L609.1 540.3M620.1 519.3L605.1 520.3M608.6 516.7L605.1 520.3L609.1 523.4M620.1 502.3L605.1 503.3M608.6 499.7L605.1 503.3L609.1 506.4M620.1 485.4L605.1 486.5M608.6 482.9L605.1 486.5L609.1 489.5M620.1 468.4L605.1 469.6M608.6 466L605.1 469.6L609.1 472.6M620.1 451.4L605.1 452.6M608.6 448.9L605.1 452.6L609.1 455.6M620.1 434.3L605.2 435.7M608.6 432L605.2 435.7L609.2 438.7M620.1 417.2L605.2 418.8M608.5 415L605.2 418.8L609.2 421.7M620.1 400.1L605.2 401.6M608.5 397.9L605.2 401.6L609.2 404.6M620.1 382.9L605.2 384.9M608.5 381.1L605.2 384.9L609.4 387.7M620.1 365.7L605.3 368.2M608.4 364.3L605.3 368.2L609.5 370.9M620.1 348.3L605.4 351.5M608.4 347.4L605.4 351.5L609.8 354M620.1 331L605.5 334.6M608.3 330.4L605.5 334.6L609.9 336.9M620.1 313.5L605.5 317.1M608.3 313L605.5 317.1L610 319.5M620.1 296L605.5 299.6M608.3 295.4L605.5 299.6L610 301.9M620.1 278.3L605.5 282M608.3 277.8L605.5 282L610 284.3M620.1 260.6L605.5 263.9M608.4 259.8L605.5 263.9L609.8 266.3M620.1 242.8L605.3 245.4M608.4 241.5L605.3 245.4L609.6 248.1M620.1 224.9L605.4 227.9M608.4 223.9L605.4 227.9L609.7 230.4M620.1 206.8L605.6 210.7M608.3 206.5L605.6 210.7L610.1 213M620.1 188.6L605.6 192.6M608.3 188.4L605.6 192.6L610.1 194.8M620.1 170.3L605.6 174.4M608.3 170.2L605.6 174.4L610.1 176.6M620.1 151.9L605.7 156.2M608.3 151.9L605.7 156.2L610.2 158.3M620.1 133.3L607.1 140.8M608.6 136L607.1 140.8L611.9 141.8M620.1 114.6L607.7 123M608.9 118.2L607.7 123L612.6 123.7M620.1 95.7L609.3 106.1M609.6 101.1L609.3 106.1L614.3 105.9M620.1 76.7L609 86.7M609.5 81.8L609 86.7L614 86.7M620.1 57.4L609.4 67.9M609.7 62.9L609.4 67.9L614.4 67.7M620.1 38L609.3 48.4M609.7 43.5L609.3 48.4L614.3 48.3M637 570L622.1 571.6M625.4 567.9L622.1 571.6L626.1 574.5M637 553.1L622.1 554.6M625.4 550.9L622.1 554.6L626.1 557.5M637 536.2L622.1 537.6M625.4 534L622.1 537.6L626.1 540.6M637 519.3L622.1 520.8M625.4 517.1L622.1 520.8L626.1 523.7M637 502.3L622.1 503.9M625.4 500.1L622.1 503.9L626.1 506.8M637 485.4L622.1 487M625.4 483.3L622.1 487L626.1 489.9M637 468.4L622.1 470.1M625.4 466.4L622.1 470.1L626.2 473M637 451.4L622.1 453.2M625.4 449.4L622.1 453.2L626.2 456.1M637 434.3L622.1 436.3M625.4 432.5L622.1 436.3L626.3 439.1M637 417.2L622.2 419.4M625.4 415.5L622.2 419.4L626.3 422.2M637 400.1L622.2 402.4M625.3 398.5L622.2 402.4L626.4 405.2M637 382.9L622.2 385.6M625.3 381.6L622.2 385.6L626.5 388.2M637 365.7L622.3 368.7M625.3 364.7L622.3 368.7L626.6 371.2M637 348.3L622.4 351.8M625.3 347.7L622.4 351.8L626.8 354.2M637 331L622.4 334.6M625.2 330.4L622.4 334.6L626.9 336.9M637 313.5L622.4 317.1M625.2 313L622.4 317.1L626.9 319.5M637 296L622.4 299.6M625.2 295.4L622.4 299.6L626.9 301.9M637 278.3L622.4 281.9M625.2 277.8L622.4 281.9L626.8 284.3M637 260.6L622.3 263.7M625.3 259.7L622.3 263.7L626.7 266.2M637 242.8L622.2 245.4M625.3 241.5L622.2 245.4L626.5 248.1M637 224.9L622.3 227.8M625.3 223.8L622.3 227.8L626.6 230.3M637 206.8L622.5 210.6M625.2 206.5L622.5 210.6L626.9 212.9M637 188.6L622.6 192.8M625.2 188.5L622.6 192.8L627.1 195M637 170.3L622.7 174.9M625.2 170.6L622.7 174.9L627.3 177M637 151.9L623.2 157.8M625.3 153.3L623.2 157.8L627.9 159.4M637 133.3L624.2 141.2M625.6 136.4L624.2 141.2L629.2 142.1M637 114.6L624.8 123.4M625.9 118.5L624.8 123.4L629.8 123.9M637 95.7L626.3 106.3M626.6 101.3L626.3 106.3L631.3 106M637 76.7L626 86.8M626.4 81.9L626 86.8L631 86.8M637 57.4L626.3 68M626.6 63L626.3 68L631.3 67.7M637 38L626.3 48.5M626.6 43.5L626.3 48.5L631.3 48.3" fill="none" stroke="#000078" stroke-width="1" shape-rendering="crispEdges"/>
<path d="M105 30L502 30L504 44L500 50L498 58L496 68L488 72L484 78L480 84L476 90L470 96L464 102L462 112L460 122L454 126L450 132L444 138L436 142L430 146L424 152L418 158L414 160L411 166L405 170L395 172L385 175L378 177L372 179L367 178L364 172L360 168L357 170L355 178L352 186L349 189L345 190L339 192L329 193.6L319 197L311 200L305 202L308 210L309 218L307 223L302 223L299 218L298 208L297 199L291 196L285 198L281 196L273 192L265 197L261 200L255 203L249 207L243 208L241 212L239 220L233 224L229 232L227 240L228 246L233 252L239 258L241 266L245 272L251 280L257 286L261 292L265 292L273 296L279 304L283 316L285 326L287 338L289 348L287 356L285 366L283 374L282 377.3L276.3 380.8L270.5 384.3L264.7 387.8L257.7 390.1L251.9 393.6L246.1 397.1L243.8 400.6L241.5 405.2L239.1 408.7L234.5 411L229.8 413.3L225.2 415.6L221.7 419.1L218.2 422.6L214.7 424.9L212.4 423.8L212.4 416.8L212.4 409.8L213.6 404L215.9 400.6L211.3 395.9L207.8 392.4L206.6 390.1L202 388.9L195 387.7L189 382L183 380L181 374L173 372L173 364L169.4 357.1L162.2 355.3L154.9 353.5L144.1 353.5L144.1 348L146.8 344.4L145.9 339.9L135.1 339L129.7 340.8L130.6 355.3L130.6 366.1L126 371.5L122.4 376.9L118.8 384.2L117 391.4L115.2 398.6L115.2 405.8L117.9 413L124.2 413L127.9 409.4L131.5 411.2L133.3 420.3L135.1 427.5L136.9 438.3L138 448L143 450L153 456L165 466L173 472L181 480L187 488L189 496L187 504L189 510L191 518L195 528L199 536L201 544L197 548L193 549L189 548L179 544L169 536L159 528L153 518L147 508L143 498L141 488L137 478L133 468L133 458L127 454L123 446L117 436L105 434ZM105 508L121 512L129 522L133 526L143 532L145 538L153 540L161 546L169 548L177 554L183 558L187 564L193 578L124 578L105 557ZM285 578L283 564L281 558L283 552L285 544L291 537L295 540L301 542L309 543L317 542L319 536L321 530L323 524L333 520L345 518L353 514L361 504L365 500L369 494L375 490L381 486L385 482L391 482L397 476L405 468L411 460L415 454L418.6 446.5L423 452L427.9 462L437.2 471.2L446.5 477.4L455.7 482L449.6 486.7L440.3 489.8L437.2 496L427.9 499.1L424.8 508.4L431 517.7L431 530L437.2 536.3L440.3 545.6L449.6 554.9L443.4 558L431 561L424.8 578ZM280.2 233.8L288.6 227.1L298.6 226.3L310.4 223.8L316.2 228.8L313.7 237.2L308.7 245.6L302 254L291.9 257.3L281.8 254L276 243.9L276.8 237.2ZM492.9 129L496.6 129.6L500.2 132L500.2 138L499 144L496.6 151.3L492.9 162.1L489.3 170.5L485.7 177.8L483.3 183.8L482.1 189.8L479.7 189.8L478.5 183.8L474.9 180.2L471.3 173L470.1 165.7L471.3 158.5L473.7 152.5L477.3 146.5L480.9 140.5L484.5 135.6L488.1 132ZM478.5 252.1L483.9 250.3L491.1 251.2L498.3 254.8L505.5 252.1L507.3 255.7L505.5 261.1L507.3 268.3L509.2 275.5L509.2 279.2L505.5 284.6L500.1 291.8L496.5 295.4L493 302L492 308.4L496 312.5L499.1 315.6L498 320.8L497 326L500.1 329.1L506.3 330.1L511.4 327L514.5 326L518.7 326L520.7 329.1L524.9 331.1L529 330.1L537.2 330.1L539.3 330.1L542.4 334.2L541.4 338.3L538.3 338.3L534 340L537.2 348.5L535.5 353.6L531 349.7L526.9 347.6L522.8 344.5L518.7 341.4L516.6 338.3L512.5 335.2L509.4 334.2L510.4 337.3L511.4 340.4L512.5 343.5L510.4 344.5L508.3 343.5L506.3 340.4L505.2 338.3L501.1 336.3L497 334.2L491.8 336.3L489.8 337.3L485.6 334.2L480.5 332.2L479.4 328L481.5 324.9L484.6 321.8L480.5 318.7L476.4 317.7L477.4 320.8L473.3 318.7L470.2 315.6L468.1 305.3L467.1 298L465.8 293.6L467.6 290L473.1 286.4L473.1 279.2L474.9 271.9L476.7 261.1ZM476.8 341.8L483.5 340.1L490.2 343.5L495.2 350.2L493.6 356.9L488.5 362L485.2 358.6L481.8 351.9L478.5 346.8ZM499.5 338.5L503 338L504.5 341.5L502 345L499 343ZM523.8 356.2L529.2 354.9L533.3 360.3L536 367.1L533.3 368.4L529.2 363L525.2 360.3ZM541.4 357.6L549.5 356.2L555 357.6L559 361.7L561.7 371.1L564.4 377.9L563.1 380.6L557.7 379.2L553.6 375.2L549.5 371.1L546.8 367.1L542.8 363ZM542.8 372.5L548.2 373.8L549.5 379.2L552.2 386L555 391.4L556.3 396.8L552.2 398.2L549.5 395.5L548.2 390.1L544.1 387.4L542.8 380.6ZM502.2 369.8L507.6 371.1L513 372.5L519.8 373.8L519.8 377.9L514.4 382L507.6 386L503.5 391.4L500.8 387.4L502.2 379.2ZM517 386L523.8 384.7L526.5 387.4L525.2 394.1L522.5 400.9L521.1 407.7L522.5 413.1L519.8 415.8L514.4 410.4L510.3 405L511.7 400.9L517 394.1ZM531.9 380.6L534.7 382L533.3 391.4L529.2 399.5L526.5 409L524.5 407.7L526.5 396.8L530.6 387.4ZM534.7 400.9L541.4 398.2L544.1 400.9L542.8 405L537.3 407.7L533.3 406.3ZM560.2 405.2L564.1 402.7L567.9 404L570.4 410.3L571.7 418L574.3 424.4L576.8 430.8L578.1 437.2L579.4 443.6L578.1 448.7L574.3 451.3L571.7 455.1L573 461.5L569.2 455.1L566.6 448.7L564.1 447.4L561.5 451.3L560.2 456.4L561.5 461.5L564.1 465.3L562.8 470.4L558.9 474.3L555.1 470.4L551.3 467.9L544.9 466.6L539.8 462.8L535.9 455.1L537.2 450L539.8 446.2L538.5 442.3L533.4 438.5L530.8 435.9L527 438.5L524.4 442.3L520.6 441L516.7 439.8L512.9 441L507.8 446.2L504 451.3L501.4 450L502.7 443.6L505.2 437.2L509.1 434.6L514.2 432.1L519.3 432.1L519.3 427L524.4 424.4L529.5 424.4L532.1 427L532.1 432.1L533.4 434.6L537.2 430.8L541 425.7L546.2 425.7L548.7 420.6L553.8 418L557.7 419.3L560.2 415.5L560.2 410.3ZM416.5 436L419 426L426 418L435 411L442 403L446 397L453 391L457 384L457 378L462 372L465 366L467.5 361L472.5 362.5L472 369L468 376L463 380L462 386L459 393L452 399L448 405L444 412L434 419L427 426L422 434L418 438ZM468 554.9L477.4 551.7L492.9 551.7L508.4 548.6L523.9 548.6L539.4 545.6L551.7 542.5L554.9 545.6L548.7 551.7L536.3 558L523.9 561L511.5 564.1L496 564.1L480.5 564.1L471.2 564.1L466.6 578L462 578L464 560ZM595 536.3L604.4 530L610.6 527L615.2 533.2L610.6 539.4L607.5 545.6L613.7 545.6L616.8 551.7L613.7 558L607.5 564.1L598.2 567.2L593.6 561L595 548.6Z" fill="#c0c0c0" stroke="#000" stroke-width="1" stroke-linejoin="round" shape-rendering="crispEdges"/>
<path d="M264.2 504.5a4.3 4.3 0 1 0 8.6 0a4.3 4.3 0 1 0 -8.6 0ZM489.2 238a1.8 1.8 0 1 0 3.6 0a1.8 1.8 0 1 0 -3.6 0ZM498.4 233a1.6 1.6 0 1 0 3.2 0a1.6 1.6 0 1 0 -3.2 0ZM499.2 243a1.8 1.8 0 1 0 3.6 0a1.8 1.8 0 1 0 -3.6 0ZM459.5 160a1.5 1.5 0 1 0 3 0a1.5 1.5 0 1 0 -3 0ZM459.8 165a1.2 1.2 0 1 0 2.4 0a1.2 1.2 0 1 0 -2.4 0ZM532 144a2 2 0 1 0 4 0a2 2 0 1 0 -4 0ZM537.5 143a1.5 1.5 0 1 0 3 0a1.5 1.5 0 1 0 -3 0ZM517 145a1 1 0 1 0 2 0a1 1 0 1 0 -2 0ZM595.5 106a2.5 2.5 0 1 0 5 0a2.5 2.5 0 1 0 -5 0ZM602 101a2 2 0 1 0 4 0a2 2 0 1 0 -4 0ZM590.5 111a1.5 1.5 0 1 0 3 0a1.5 1.5 0 1 0 -3 0ZM623.5 72a2.5 2.5 0 1 0 5 0a2.5 2.5 0 1 0 -5 0ZM628 68a2 2 0 1 0 4 0a2 2 0 1 0 -4 0ZM617.5 81a1.5 1.5 0 1 0 3 0a1.5 1.5 0 1 0 -3 0ZM612.8 88a1.2 1.2 0 1 0 2.4 0a1.2 1.2 0 1 0 -2.4 0ZM586 495a2 2 0 1 0 4 0a2 2 0 1 0 -4 0ZM585.5 502a1.5 1.5 0 1 0 3 0a1.5 1.5 0 1 0 -3 0ZM582 510a1 1 0 1 0 2 0a1 1 0 1 0 -2 0ZM468 366a2 2 0 1 0 4 0a2 2 0 1 0 -4 0ZM464.5 363a1.5 1.5 0 1 0 3 0a1.5 1.5 0 1 0 -3 0ZM484.5 478a1.5 1.5 0 1 0 3 0a1.5 1.5 0 1 0 -3 0ZM476.5 482a1.5 1.5 0 1 0 3 0a1.5 1.5 0 1 0 -3 0ZM468.7 486a1.3 1.3 0 1 0 2.6 0a1.3 1.3 0 1 0 -2.6 0ZM492.8 474a1.2 1.2 0 1 0 2.4 0a1.2 1.2 0 1 0 -2.4 0ZM498.8 467a1.2 1.2 0 1 0 2.4 0a1.2 1.2 0 1 0 -2.4 0ZM502.8 460a1.2 1.2 0 1 0 2.4 0a1.2 1.2 0 1 0 -2.4 0ZM544.5 399a1.5 1.5 0 1 0 3 0a1.5 1.5 0 1 0 -3 0ZM524.8 420a1.2 1.2 0 1 0 2.4 0a1.2 1.2 0 1 0 -2.4 0ZM507.8 420a1.2 1.2 0 1 0 2.4 0a1.2 1.2 0 1 0 -2.4 0Z" fill="#c0c0c0" stroke="#000" stroke-width="1.6"/>
<path d="M503 38L504 44L500 50L498 58L496 68L488 72L484 78L480 84L476 90L470 96L464 102L462 112L460 122L454 126L450 132L444 138L436 142L430 146L424 152L418 158L414 160L411 166L405 170M395 172L385 175L378 177L372 179L367 178L364 172L360 168L357 170L355 178L352 186L349 189M350 189L345 190L339 192L329 193.6M255 203L249 207L243 208L241 212" fill="none" stroke="#000" stroke-width="2.2" stroke-linejoin="round"/>
<path d="M227 517a3 3 0 1 0 6 0a3 3 0 1 0 -6 0ZM233 514a3 3 0 1 0 6 0a3 3 0 1 0 -6 0ZM238 518a2 2 0 1 0 4 0a2 2 0 1 0 -4 0ZM266.5 515a1.5 1.5 0 1 0 3 0a1.5 1.5 0 1 0 -3 0ZM268 520a1 1 0 1 0 2 0a1 1 0 1 0 -2 0ZM623 70a3 3 0 1 0 6 0a3 3 0 1 0 -6 0ZM597 104a3 3 0 1 0 6 0a3 3 0 1 0 -6 0ZM593.5 110a2.5 2.5 0 1 0 5 0a2.5 2.5 0 1 0 -5 0ZM591 112a2 2 0 1 0 4 0a2 2 0 1 0 -4 0ZM464.5 365a2.5 2.5 0 1 0 5 0a2.5 2.5 0 1 0 -5 0ZM472 362a2 2 0 1 0 4 0a2 2 0 1 0 -4 0ZM533.5 144a2.5 2.5 0 1 0 5 0a2.5 2.5 0 1 0 -5 0ZM530 146a2 2 0 1 0 4 0a2 2 0 1 0 -4 0ZM193.5 563a2.5 2.5 0 1 0 5 0a2.5 2.5 0 1 0 -5 0ZM201.5 566a2.5 2.5 0 1 0 5 0a2.5 2.5 0 1 0 -5 0ZM207 559a2 2 0 1 0 4 0a2 2 0 1 0 -4 0ZM211.5 563a1.5 1.5 0 1 0 3 0a1.5 1.5 0 1 0 -3 0ZM200.5 559a1.5 1.5 0 1 0 3 0a1.5 1.5 0 1 0 -3 0Z" fill="#000"/>
<path d="M263 197L253 194L245 190L243 180L245 174L233 171L221 163.6L211 168L207 174L199 176L189 174L181 180L173 175L167 180L161 180L157 182L159 190L161 202L153 203L149 195L143 197L135 198L131 194L129 188L117 186L117 180L119 172L123 169L113 167.6M167 180L173 190L179 196L183 208L193 212L201 208L207 212L207 218L213 224L211 230L201 234L197 238L205 242L217 250L221 256L225 262L233 272L241 284L245 290L253 292L257 300L257 320L253 330L257 340L257 360L241 366L233 370L229 378L233 384L231 390M133 198L133 216L139 224L139 232L151 234L153 244L149 252L147 268L153 269L165 258L173 262L185 254L197 256L207 268L211 276L211 293L221 296L223 310L225 326L231 328M113 224L121 220L133 217M113 331L117 332L115 342L117 350L121 364L125 370L127 374M172 364L173 350L171 338L181 326L199 325L217 326L231 328L233 350L225 366L213 366L217 376L217 386L214 392M133 458L143 462L149 466L149 474L163 470L165 466M295 540L301 548L309 554L317 552L325 552L333 550L337 546L345 544L353 546L361 548L369 546L377 542L381 534L385 528L387 520L391 516L393 508L395 500L397 496L410 496L425 497M369 494L373 500L379 502L381 496L384 490M300 162L305 160L312 162L318 161L323 162" fill="none" stroke="#000" stroke-width="1" shape-rendering="crispEdges"/>
<path d="M130.5 38v4.5M130.5 570v-4.5M164.5 38v4.5M164.5 570v-4.5M198.5 38v4.5M198.5 570v-4.5M231.5 38v4.5M231.5 570v-4.5M265.5 38v4.5M265.5 570v-4.5M299.5 38v4.5M299.5 570v-4.5M333.5 38v4.5M333.5 570v-4.5M367.5 38v4.5M367.5 570v-4.5M400.5 38v4.5M400.5 570v-4.5M434.5 38v4.5M434.5 570v-4.5M468.5 38v4.5M468.5 570v-4.5M502.5 38v4.5M502.5 570v-4.5M536.5 38v4.5M536.5 570v-4.5M569.5 38v4.5M569.5 570v-4.5M603.5 38v4.5M603.5 570v-4.5M113 536.5h5M636 536.5h-5M113 502.5h5M636 502.5h-5M113 468.5h5M636 468.5h-5M113 434.5h5M636 434.5h-5M113 400.5h5M636 400.5h-5M113 366.5h5M636 366.5h-5M113 331.5h5M636 331.5h-5M113 296.5h5M636 296.5h-5M113 261.5h5M636 261.5h-5M113 225.5h5M636 225.5h-5M113 189.5h5M636 189.5h-5M113 152.5h5M636 152.5h-5M113 115.5h5M636 115.5h-5M113 77.5h5M636 77.5h-5" fill="none" stroke="#000" stroke-width="1"/>
</g>
<rect x="112" y="37" width="526" height="534" fill="none" stroke="#000" stroke-width="2"/>
<text x="646" y="574" class="ll">0</text>
<text x="646" y="489.4" class="ll">5 N</text>
<text x="646" y="404.1" class="ll">10 N</text>
<text x="646" y="317.5" class="ll">15 N</text>
<text x="646" y="228.9" class="ll">20 N</text>
<text x="646" y="137.3" class="ll">25 N</text>
<text x="646" y="42" class="ll">30 N</text>
<text x="119.9" y="587.5" class="ll">100 E</text>
<text x="204.4" y="587.5" class="ll">105 E</text>
<text x="288.9" y="587.5" class="ll">110 E</text>
<text x="373.5" y="587.5" class="ll">115 E</text>
<text x="458" y="587.5" class="ll">120 E</text>
<text x="542.5" y="587.5" class="ll">125 E</text>
<text x="627" y="587.5" class="ll">130 E</text>
<text x="113" y="601.5" class="logo" textLength="127" lengthAdjust="spacingAndGlyphs">oceanweather inc.</text>
<text x="521" y="598.5" class="pl" textLength="116" lengthAdjust="spacingAndGlyphs">Plotted at Feb 11, 2012 21:45 GMT</text>
<text x="305.5" y="613.8" class="cbt" textLength="138" lengthAdjust="spacingAndGlyphs">Significant Wave Height (Meters)</text>
<rect x="255" y="629" width="2.5" height="12.5" fill="#000"/>
<rect x="257.4" y="629" width="5.1" height="12.5" fill="#000bff"/>
<rect x="262.4" y="629" width="5.1" height="12.5" fill="#0020ff"/>
<rect x="267.4" y="629" width="5.1" height="12.5" fill="#0035ff"/>
<rect x="272.4" y="629" width="5.1" height="12.5" fill="#004aff"/>
<rect x="277.3" y="629" width="5.1" height="12.5" fill="#0060ff"/>
<rect x="282.3" y="629" width="5.1" height="12.5" fill="#0075ff"/>
<rect x="287.3" y="629" width="5.1" height="12.5" fill="#008aff"/>
<rect x="292.2" y="629" width="5.1" height="12.5" fill="#009fff"/>
<rect x="297.2" y="629" width="5.1" height="12.5" fill="#00b5ff"/>
<rect x="302.2" y="629" width="5.1" height="12.5" fill="#00caff"/>
<rect x="307.1" y="629" width="5.1" height="12.5" fill="#00dfff"/>
<rect x="312.1" y="629" width="5.1" height="12.5" fill="#00f4ff"/>
<rect x="317.1" y="629" width="5.1" height="12.5" fill="#00fff4"/>
<rect x="322" y="629" width="5.1" height="12.5" fill="#00ffdf"/>
<rect x="327" y="629" width="5.1" height="12.5" fill="#00ffca"/>
<rect x="332" y="629" width="5.1" height="12.5" fill="#00ffb5"/>
<rect x="336.9" y="629" width="5.1" height="12.5" fill="#00ff9f"/>
<rect x="341.9" y="629" width="5.1" height="12.5" fill="#00ff8a"/>
<rect x="346.9" y="629" width="5.1" height="12.5" fill="#00ff75"/>
<rect x="351.9" y="629" width="5.1" height="12.5" fill="#00ff60"/>
<rect x="356.8" y="629" width="5.1" height="12.5" fill="#00ff4a"/>
<rect x="361.8" y="629" width="5.1" height="12.5" fill="#00ff35"/>
<rect x="366.8" y="629" width="5.1" height="12.5" fill="#00ff20"/>
<rect x="371.7" y="629" width="5.1" height="12.5" fill="#00ff0b"/>
<rect x="376.7" y="629" width="5.1" height="12.5" fill="#0bff00"/>
<rect x="381.7" y="629" width="5.1" height="12.5" fill="#20ff00"/>
<rect x="386.6" y="629" width="5.1" height="12.5" fill="#35ff00"/>
<rect x="391.6" y="629" width="5.1" height="12.5" fill="#4aff00"/>
<rect x="396.6" y="629" width="5.1" height="12.5" fill="#60ff00"/>
<rect x="401.5" y="629" width="5.1" height="12.5" fill="#75ff00"/>
<rect x="406.5" y="629" width="5.1" height="12.5" fill="#8aff00"/>
<rect x="411.5" y="629" width="5.1" height="12.5" fill="#9fff00"/>
<rect x="416.4" y="629" width="5.1" height="12.5" fill="#b5ff00"/>
<rect x="421.4" y="629" width="5.1" height="12.5" fill="#caff00"/>
<rect x="426.4" y="629" width="5.1" height="12.5" fill="#dfff00"/>
<rect x="431.4" y="629" width="5.1" height="12.5" fill="#f4ff00"/>
<rect x="436.3" y="629" width="5.1" height="12.5" fill="#fff400"/>
<rect x="441.3" y="629" width="5.1" height="12.5" fill="#ffdf00"/>
<rect x="446.3" y="629" width="5.1" height="12.5" fill="#ffca00"/>
<rect x="451.2" y="629" width="5.1" height="12.5" fill="#ffb500"/>
<rect x="456.2" y="629" width="5.1" height="12.5" fill="#ff9f00"/>
<rect x="461.2" y="629" width="5.1" height="12.5" fill="#ff8a00"/>
<rect x="466.1" y="629" width="5.1" height="12.5" fill="#ff7500"/>
<rect x="471.1" y="629" width="5.1" height="12.5" fill="#ff6000"/>
<rect x="476.1" y="629" width="5.1" height="12.5" fill="#ff4a00"/>
<rect x="481" y="629" width="5.1" height="12.5" fill="#ff3500"/>
<rect x="486" y="629" width="5.1" height="12.5" fill="#ff2000"/>
<rect x="491" y="629" width="5.1" height="12.5" fill="#ff0b00"/>
<text x="256" y="625.5" class="cb" text-anchor="middle">0</text>
<text x="276" y="625.5" class="cb" text-anchor="middle">1</text>
<text x="296.1" y="625.5" class="cb" text-anchor="middle">2</text>
<text x="316.1" y="625.5" class="cb" text-anchor="middle">3</text>
<text x="336.1" y="625.5" class="cb" text-anchor="middle">4</text>
<text x="356.1" y="625.5" class="cb" text-anchor="middle">5</text>
<text x="376.2" y="625.5" class="cb" text-anchor="middle">6</text>
<text x="396.2" y="625.5" class="cb" text-anchor="middle">7</text>
<text x="416.2" y="625.5" class="cb" text-anchor="middle">8</text>
<text x="436.3" y="625.5" class="cb" text-anchor="middle">9</text>
<text x="456.3" y="625.5" class="cb" text-anchor="middle">10</text>
<text x="476.3" y="625.5" class="cb" text-anchor="middle">11</text>
<text x="496.4" y="625.5" class="cb" text-anchor="middle">12</text>
<text x="256" y="649.5" class="cb" text-anchor="middle">0</text>
<text x="286.1" y="649.5" class="cb" text-anchor="middle">5</text>
<text x="316.1" y="649.5" class="cb" text-anchor="middle">10</text>
<text x="346.1" y="649.5" class="cb" text-anchor="middle">15</text>
<text x="376.2" y="649.5" class="cb" text-anchor="middle">20</text>
<text x="406.2" y="649.5" class="cb" text-anchor="middle">25</text>
<text x="436.3" y="649.5" class="cb" text-anchor="middle">30</text>
<text x="466.4" y="649.5" class="cb" text-anchor="middle">35</text>
<text x="496.4" y="649.5" class="cb" text-anchor="middle">40</text>
<text x="310.5" y="661.5" class="cbt" textLength="129.5" lengthAdjust="spacingAndGlyphs">Significant Wave Height (Feet)</text>
</svg>
</body></html>
